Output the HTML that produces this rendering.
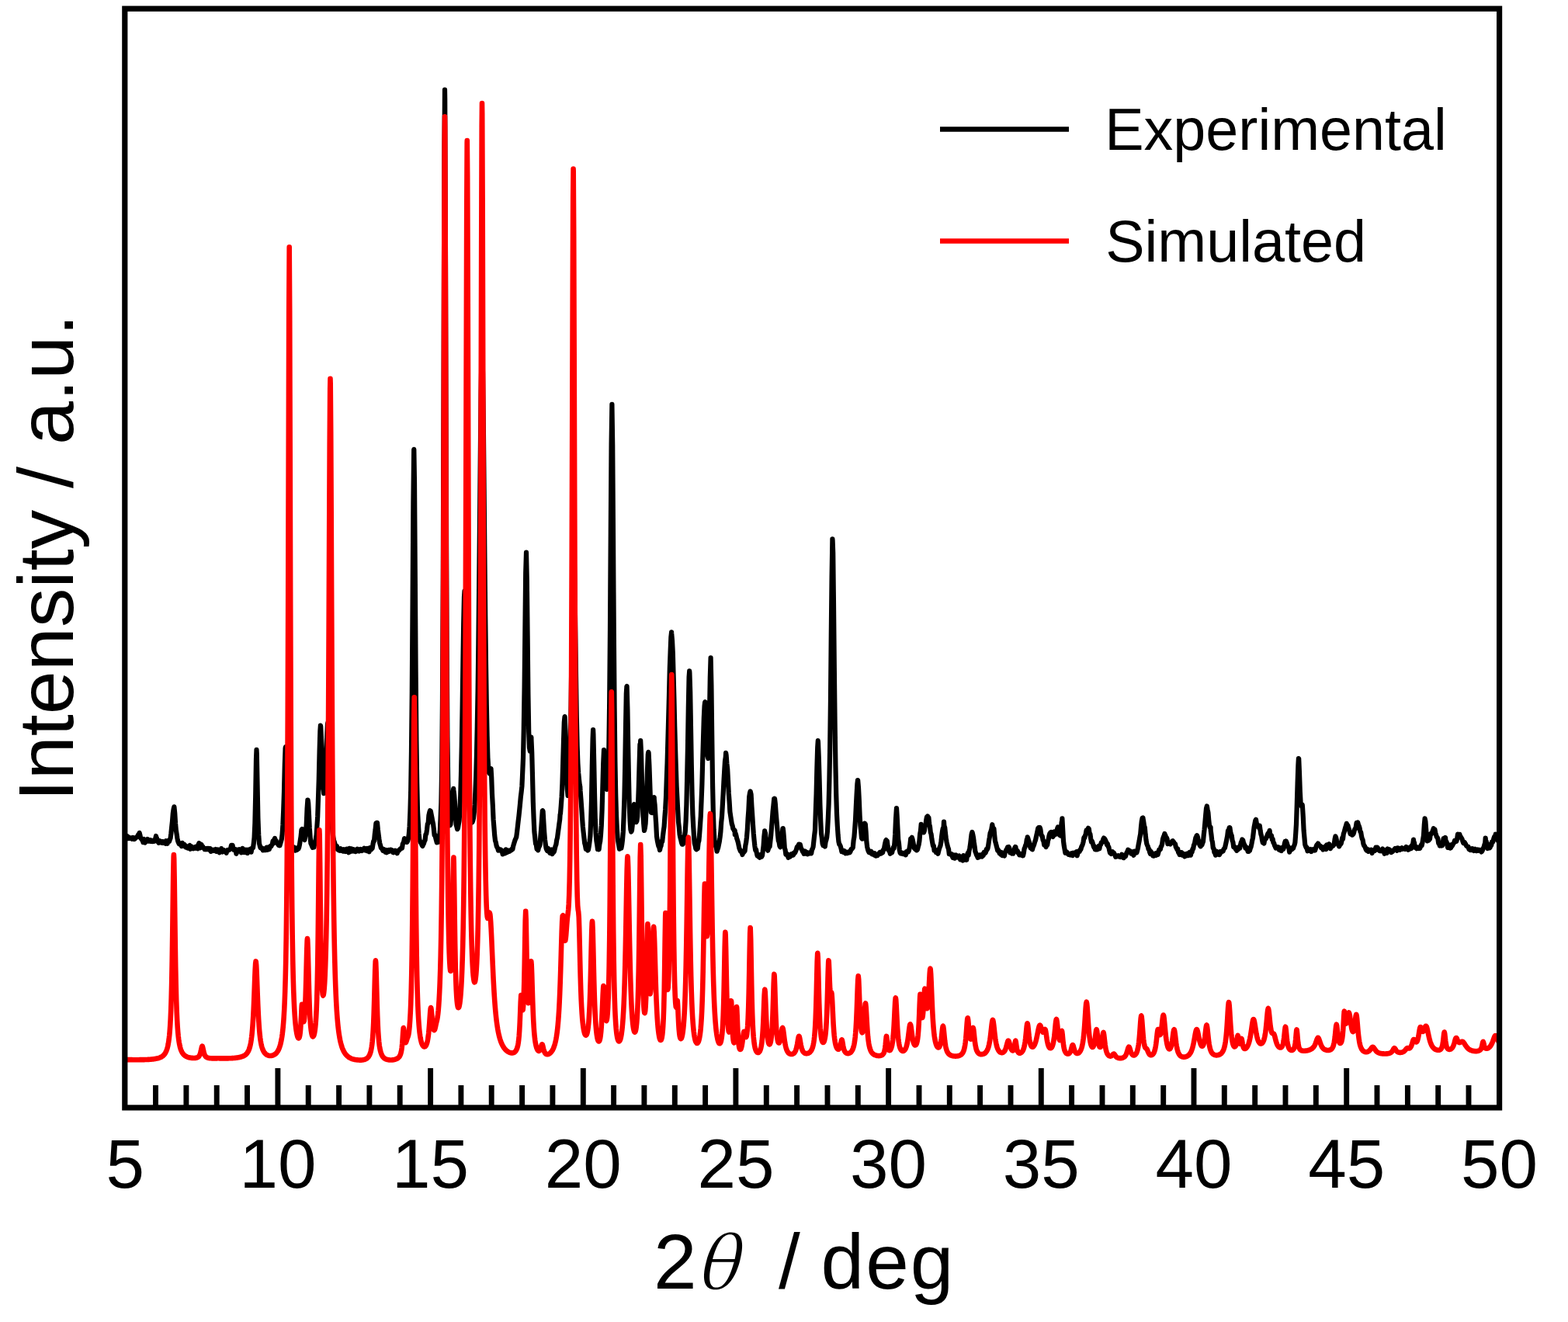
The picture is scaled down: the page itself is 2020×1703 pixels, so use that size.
<!DOCTYPE html>
<html><head><meta charset="utf-8"><title>PXRD: Experimental vs Simulated</title>
<style>html,body{margin:0;padding:0;background:#fff;width:2020px;height:1703px;overflow:hidden}svg{display:block}#w{}</style>
</head><body>
<div id="w"><svg xmlns="http://www.w3.org/2000/svg" width="2020" height="1703" viewBox="0 0 2020 1703">
<rect width="2020" height="1703" fill="#fff"/>
<path d="M161.2 1078.8L162.0 1079.6 162.8 1079.1 163.6 1076.9 164.4 1080.2 165.2 1079.6 166.0 1078.4 166.8 1080.1 167.6 1079.9 168.4 1080.0 169.2 1079.7 170.0 1080.6 170.8 1078.9 171.6 1079.8 172.4 1079.4 173.2 1081.0 174.0 1080.2 174.8 1079.6 175.6 1078.5 176.4 1078.5 177.2 1077.5 178.0 1075.5 178.7 1077.1 178.8 1076.8 179.6 1072.8 180.4 1075.8 181.2 1079.7 182.0 1080.3 182.8 1081.8 183.6 1082.2 184.4 1085.1 185.2 1080.8 186.0 1082.0 186.8 1085.6 187.6 1083.8 188.4 1083.9 189.2 1082.4 190.0 1081.0 190.8 1083.7 191.6 1083.7 192.4 1081.9 193.2 1082.8 194.0 1083.7 194.8 1082.6 195.6 1083.8 196.4 1084.1 197.2 1083.9 198.0 1082.8 198.8 1083.6 199.6 1082.5 200.4 1079.4 201.0 1076.9 201.2 1079.2 202.0 1079.6 202.8 1083.8 203.6 1082.4 204.4 1085.8 205.2 1084.8 206.0 1083.3 206.8 1084.8 207.6 1085.4 208.4 1085.8 209.2 1084.1 210.0 1084.0 210.8 1085.9 211.6 1085.0 212.4 1086.0 213.2 1086.7 214.0 1083.2 214.8 1085.7 215.6 1086.8 216.4 1084.2 217.2 1082.8 218.0 1083.9 218.8 1081.5 219.6 1079.6 220.4 1073.4 221.2 1065.2 222.0 1058.2 222.8 1047.8 223.6 1042.5 224.0 1040.8 224.4 1039.3 225.2 1047.2 226.0 1060.3 226.8 1069.2 227.6 1074.3 228.4 1079.8 229.2 1083.5 230.0 1085.5 230.8 1087.4 231.6 1087.5 232.4 1087.6 233.2 1087.9 234.0 1090.1 234.8 1085.8 235.6 1089.1 236.4 1089.5 237.2 1087.7 238.0 1090.4 238.8 1089.2 239.6 1091.5 240.4 1090.3 241.2 1091.5 242.0 1092.5 242.8 1091.4 243.6 1089.8 244.4 1089.1 245.2 1093.8 246.0 1091.3 246.8 1090.6 247.6 1091.9 248.4 1091.6 249.2 1093.2 250.0 1092.1 250.8 1092.1 251.6 1091.1 252.4 1092.7 253.2 1090.4 254.0 1092.5 254.8 1093.2 255.6 1088.2 256.4 1086.1 257.2 1089.7 258.0 1092.2 258.8 1087.6 259.6 1088.1 260.4 1091.7 261.2 1090.6 262.0 1091.8 262.8 1092.5 263.6 1094.1 264.4 1093.1 265.2 1094.2 266.0 1093.8 266.8 1093.0 267.6 1093.9 268.4 1093.1 269.2 1094.6 270.0 1093.1 270.8 1093.2 271.6 1096.9 272.4 1094.9 273.2 1095.0 274.0 1095.9 274.8 1094.7 275.6 1095.0 276.4 1096.0 277.2 1095.9 278.0 1094.0 278.8 1096.9 279.6 1095.0 280.4 1094.4 281.2 1094.7 282.0 1095.5 282.8 1098.3 283.6 1094.4 284.4 1096.3 285.2 1093.1 286.0 1096.1 286.8 1097.4 287.6 1095.8 288.4 1095.2 289.2 1096.4 290.0 1097.1 290.8 1097.0 291.6 1098.8 292.4 1096.2 293.2 1094.9 294.0 1095.3 294.8 1095.0 295.6 1094.7 296.4 1093.6 297.2 1092.6 298.0 1088.8 298.8 1091.6 299.0 1089.6 299.6 1089.1 300.4 1092.7 301.2 1095.0 302.0 1094.9 302.8 1095.3 303.6 1094.3 304.4 1099.9 305.2 1097.4 306.0 1094.7 306.8 1095.3 307.6 1096.6 308.4 1094.3 309.2 1096.8 310.0 1096.0 310.8 1098.3 311.6 1098.0 312.4 1092.8 313.2 1096.6 314.0 1094.2 314.8 1098.0 315.6 1096.7 316.4 1097.1 317.2 1094.8 318.0 1098.8 318.8 1099.0 319.6 1094.6 320.4 1096.5 321.2 1094.9 322.0 1095.7 322.8 1093.7 323.6 1097.7 324.4 1093.1 325.2 1092.9 326.0 1092.1 326.8 1086.5 327.6 1078.8 328.4 1060.5 329.2 1025.5 330.0 977.5 330.5 965.9 330.8 971.0 331.6 1013.3 332.4 1054.1 333.2 1075.2 334.0 1086.6 334.8 1089.7 335.6 1092.2 336.4 1092.6 337.2 1093.4 338.0 1092.7 338.8 1095.4 339.6 1093.1 340.4 1093.7 341.2 1095.2 342.0 1095.2 342.8 1094.0 343.6 1091.6 344.4 1094.8 345.2 1094.3 346.0 1091.5 346.8 1094.1 347.6 1091.4 348.4 1089.9 349.2 1090.5 350.0 1088.7 350.8 1087.6 351.6 1083.3 352.4 1086.4 353.2 1081.7 354.0 1079.9 354.8 1083.2 355.6 1082.9 356.4 1085.3 357.2 1085.8 358.0 1087.4 358.8 1088.7 359.6 1087.6 360.4 1089.3 361.2 1086.6 362.0 1083.8 362.8 1081.1 363.6 1074.9 364.4 1062.7 365.2 1044.0 366.0 1020.1 366.8 985.9 367.6 964.0 368.0 962.1 368.4 963.5 369.2 988.6 370.0 1019.4 370.8 1046.8 371.6 1062.4 372.4 1074.2 373.2 1082.6 374.0 1083.1 374.8 1093.6 375.6 1090.1 376.4 1091.2 377.2 1094.2 378.0 1093.5 378.8 1091.4 379.6 1095.0 380.4 1095.5 381.2 1093.7 382.0 1093.8 382.8 1094.7 383.6 1092.3 384.4 1093.4 385.2 1091.7 386.0 1087.9 386.8 1082.6 387.6 1077.6 388.4 1069.2 389.2 1067.9 390.0 1069.6 390.8 1076.8 391.6 1080.6 392.4 1082.0 393.2 1077.9 394.0 1072.5 394.8 1061.1 395.6 1041.8 396.4 1030.5 396.6 1030.6 397.2 1034.8 398.0 1050.0 398.8 1067.0 399.6 1077.5 400.4 1086.4 401.2 1088.0 402.0 1090.2 402.8 1091.8 403.6 1090.0 404.4 1091.6 405.2 1087.2 406.0 1084.5 406.8 1081.2 407.6 1075.6 408.4 1064.4 409.2 1051.9 410.0 1028.2 410.8 1003.4 411.6 968.2 412.4 941.4 412.9 934.5 413.2 935.9 414.0 952.0 414.8 976.6 415.6 999.4 416.4 1014.6 417.0 1019.3 417.2 1022.1 418.0 1020.9 418.8 1010.6 419.6 994.8 420.4 969.8 421.2 949.2 422.0 932.4 422.5 930.7 422.8 934.0 423.6 944.3 424.4 973.8 425.2 1000.1 426.0 1027.3 426.8 1044.0 427.6 1059.4 428.4 1070.5 429.2 1078.1 430.0 1082.4 430.8 1084.7 431.6 1087.5 432.4 1091.3 433.2 1091.4 434.0 1090.0 434.8 1094.2 435.6 1094.2 436.4 1095.2 437.2 1093.8 438.0 1095.7 438.8 1093.3 439.6 1095.7 440.4 1094.3 441.2 1096.0 442.0 1096.5 442.8 1094.2 443.6 1095.1 444.4 1095.3 445.2 1096.9 446.0 1096.3 446.8 1093.6 447.6 1095.9 448.4 1096.3 449.2 1098.2 450.0 1092.9 450.8 1094.5 451.6 1097.1 452.4 1093.3 453.2 1093.5 454.0 1095.9 454.8 1096.5 455.6 1094.2 456.4 1095.8 457.2 1095.2 458.0 1097.1 458.8 1095.0 459.6 1096.3 460.4 1093.7 461.2 1094.6 462.0 1094.8 462.8 1096.5 463.6 1095.8 464.4 1093.9 465.2 1095.9 466.0 1096.1 466.8 1094.9 467.6 1094.7 468.4 1094.8 469.2 1092.7 470.0 1095.3 470.8 1095.3 471.6 1093.8 472.4 1096.0 473.2 1093.0 474.0 1094.1 474.8 1094.0 475.6 1097.3 476.4 1092.1 477.2 1094.7 478.0 1094.7 478.8 1093.1 479.6 1093.0 480.4 1088.1 481.2 1083.4 482.0 1083.4 482.8 1074.6 483.6 1068.5 484.4 1060.5 485.2 1060.2 485.3 1059.9 486.0 1059.8 486.8 1068.4 487.6 1074.8 488.4 1080.9 489.2 1086.0 490.0 1088.8 490.8 1092.1 491.6 1093.1 492.4 1093.1 493.2 1095.7 494.0 1093.9 494.8 1095.5 495.6 1095.9 496.4 1097.6 497.2 1095.0 498.0 1098.3 498.8 1096.2 499.6 1095.7 500.4 1095.1 501.2 1097.0 502.0 1096.3 502.8 1094.7 503.6 1094.7 504.4 1095.6 505.2 1095.4 506.0 1097.9 506.8 1098.3 507.6 1097.6 508.4 1096.9 509.2 1095.8 510.0 1096.5 510.8 1097.6 511.6 1099.3 512.4 1097.4 513.2 1095.6 514.0 1095.7 514.8 1094.6 515.6 1093.5 516.4 1093.3 517.2 1092.3 518.0 1092.5 518.8 1087.1 519.6 1085.6 520.4 1083.5 521.0 1080.1 521.2 1082.2 522.0 1081.9 522.8 1082.2 523.6 1084.8 524.4 1084.9 525.2 1083.4 526.0 1080.2 526.8 1074.8 527.6 1065.0 528.4 1045.9 529.2 1018.1 530.0 967.0 530.8 890.2 531.6 775.8 532.4 648.6 533.2 579.4 533.3 578.8 534.0 621.4 534.8 742.0 535.6 864.8 536.4 953.9 537.2 1008.5 538.0 1044.7 538.8 1060.7 539.6 1074.0 540.4 1081.5 541.2 1083.9 542.0 1085.5 542.8 1086.4 543.6 1088.8 544.4 1089.9 545.2 1088.0 546.0 1086.5 546.8 1083.7 547.6 1082.3 548.4 1075.1 549.2 1074.2 550.0 1068.9 550.8 1061.5 551.6 1060.7 552.4 1050.5 553.2 1046.8 554.0 1044.3 554.4 1047.2 554.8 1044.7 555.6 1049.1 556.4 1053.1 557.2 1057.8 558.0 1061.2 558.8 1067.6 559.6 1075.6 560.4 1075.5 561.2 1079.3 562.0 1082.5 562.8 1085.3 563.6 1085.0 564.4 1085.0 565.2 1080.4 566.0 1079.0 566.8 1070.8 567.6 1054.1 568.4 1033.9 569.2 989.5 570.0 899.8 570.8 743.8 571.6 491.5 572.4 206.4 573.0 115.5 573.2 127.1 574.0 339.3 574.8 626.5 575.6 832.9 576.4 948.2 577.2 1007.1 578.0 1041.1 578.8 1058.4 579.6 1063.3 580.4 1062.1 581.2 1054.3 582.0 1044.5 582.8 1028.4 583.6 1019.9 584.2 1015.9 584.4 1017.9 585.2 1024.4 586.0 1035.3 586.8 1050.4 587.6 1062.1 588.4 1065.0 589.2 1068.2 590.0 1066.9 590.8 1061.6 591.6 1057.1 592.4 1044.9 593.2 1025.4 594.0 997.7 594.8 960.3 595.6 912.9 596.4 856.0 597.2 804.6 598.0 768.6 598.5 761.3 598.8 761.7 599.6 791.2 600.4 841.2 601.2 899.5 602.0 946.9 602.8 983.0 603.6 1014.7 604.4 1036.6 605.2 1048.2 606.0 1056.9 606.8 1060.5 607.6 1059.6 608.4 1059.3 609.2 1057.4 610.0 1053.9 610.8 1046.7 611.6 1036.2 612.4 1019.6 613.2 1001.0 614.0 972.0 614.8 935.3 615.6 890.5 616.4 828.5 617.2 753.3 618.0 672.5 618.8 588.1 619.6 507.7 620.4 461.6 621.0 449.5 621.2 449.3 622.0 480.5 622.8 546.5 623.6 628.9 624.4 716.8 625.2 793.2 626.0 855.4 626.8 907.5 627.6 947.7 628.4 975.6 629.2 989.3 630.0 995.5 630.8 996.5 631.6 990.1 632.4 990.8 632.5 990.0 633.2 1001.3 634.0 1023.4 634.8 1037.7 635.6 1055.9 636.4 1065.7 637.2 1076.2 638.0 1082.9 638.8 1085.3 639.6 1089.5 640.4 1091.5 641.2 1092.6 642.0 1095.6 642.8 1095.1 643.6 1094.3 644.4 1094.3 645.2 1094.5 646.0 1096.7 646.8 1095.9 647.6 1100.4 648.4 1099.3 649.2 1096.6 650.0 1096.5 650.8 1099.3 651.6 1094.3 652.4 1096.3 653.2 1098.2 654.0 1095.4 654.8 1095.8 655.6 1095.7 656.4 1096.8 657.2 1095.6 658.0 1095.5 658.8 1095.0 659.6 1093.4 660.4 1093.8 661.2 1089.9 662.0 1087.2 662.8 1084.5 663.6 1082.1 664.4 1080.3 665.2 1078.4 666.0 1072.3 666.8 1065.4 667.6 1058.1 668.4 1051.5 669.2 1043.9 670.0 1035.8 670.8 1026.9 671.6 1020.3 672.4 1013.0 673.2 995.3 674.0 976.4 674.8 938.1 675.6 886.0 676.4 811.2 677.2 738.4 678.0 711.7 678.8 747.5 679.6 818.6 680.4 893.6 681.2 942.6 682.0 963.3 682.8 967.7 683.6 955.1 684.4 949.5 684.5 953.5 685.2 968.9 686.0 999.8 686.8 1033.3 687.6 1054.3 688.4 1071.7 689.2 1078.9 690.0 1086.8 690.8 1088.1 691.6 1093.9 692.4 1093.4 693.2 1095.3 694.0 1091.6 694.8 1090.3 695.6 1088.4 696.4 1076.5 697.2 1067.6 698.0 1056.1 698.8 1044.5 699.1 1044.2 699.6 1045.3 700.4 1059.5 701.2 1072.1 702.0 1081.6 702.8 1087.6 703.6 1092.9 704.4 1095.0 705.2 1096.1 706.0 1092.7 706.8 1095.3 707.6 1097.5 708.4 1098.7 709.2 1097.4 710.0 1096.8 710.8 1094.5 711.6 1100.1 712.4 1095.0 713.2 1098.0 714.0 1096.6 714.8 1093.2 715.6 1089.8 716.4 1087.8 717.2 1082.2 718.0 1079.3 718.8 1073.2 719.6 1067.3 720.4 1061.1 721.2 1055.6 721.6 1049.4 722.0 1048.1 722.8 1037.9 723.6 1026.7 724.4 1009.6 725.2 983.5 726.0 955.7 726.8 930.5 727.4 924.2 727.6 923.1 728.4 940.5 729.2 968.6 730.0 995.6 730.8 1016.7 731.6 1024.9 732.4 1021.3 733.2 1012.3 734.0 987.2 734.8 955.6 735.6 908.1 736.4 849.5 737.2 784.5 738.0 731.8 738.8 702.2 739.0 701.7 739.6 710.5 740.4 751.1 741.2 812.3 742.0 871.2 742.8 923.4 743.6 960.7 744.4 983.1 745.2 995.8 746.0 1004.2 746.8 1011.3 747.3 1013.5 747.6 1019.0 748.4 1029.3 749.2 1040.4 750.0 1052.8 750.8 1064.5 751.6 1072.0 752.4 1078.9 753.2 1086.3 754.0 1089.2 754.8 1093.8 755.6 1091.8 756.4 1091.6 757.2 1095.5 758.0 1094.6 758.8 1089.8 759.6 1083.9 760.4 1076.8 761.2 1057.7 762.0 1031.1 762.8 987.3 763.6 951.4 764.1 940.0 764.4 945.9 765.2 981.6 766.0 1022.1 766.8 1055.7 767.6 1072.9 768.4 1083.2 769.2 1087.9 770.0 1094.0 770.8 1093.0 771.6 1094.2 772.4 1087.5 773.2 1083.6 774.0 1075.3 774.8 1063.4 775.6 1043.5 776.4 1012.9 777.2 984.2 778.0 966.2 778.1 969.7 778.8 970.2 779.6 984.3 780.4 1001.1 781.2 1008.1 781.5 1011.5 782.0 1017.0 782.8 1012.5 783.6 996.5 784.4 960.8 785.2 902.7 786.0 811.0 786.8 685.2 787.6 570.9 788.4 520.8 789.2 573.5 790.0 691.5 790.8 816.1 791.6 912.8 792.4 980.7 793.2 1022.7 794.0 1050.3 794.8 1067.4 795.6 1079.3 796.4 1084.4 797.2 1089.1 798.0 1093.6 798.8 1092.9 799.6 1092.7 800.4 1092.6 801.2 1088.3 802.0 1081.8 802.8 1071.5 803.6 1052.1 804.4 1027.2 805.2 988.6 806.0 938.6 806.8 893.7 807.4 884.5 807.6 884.1 808.4 913.3 809.2 961.5 810.0 1004.2 810.8 1039.7 811.6 1057.4 812.4 1068.7 813.2 1071.6 814.0 1069.8 814.8 1062.2 815.6 1048.4 816.4 1041.8 817.0 1036.0 817.2 1038.4 818.0 1044.4 818.8 1052.5 819.6 1059.1 820.4 1057.5 821.2 1051.9 822.0 1036.4 822.8 1014.1 823.6 985.5 824.4 958.9 825.0 958.5 825.2 954.0 826.0 970.0 826.8 1000.3 827.6 1028.9 828.4 1049.9 829.2 1061.3 830.0 1069.9 830.8 1066.8 831.6 1061.1 832.4 1045.4 833.2 1018.8 834.0 992.4 834.8 971.7 835.3 968.9 835.6 969.8 836.4 985.8 837.2 1008.6 838.0 1031.9 838.8 1046.7 839.6 1047.1 840.4 1045.2 841.2 1037.5 842.0 1029.0 842.7 1027.1 842.8 1030.2 843.6 1036.9 844.4 1049.6 845.2 1061.5 846.0 1077.3 846.8 1082.8 847.6 1086.7 848.4 1090.1 849.2 1091.2 850.0 1095.0 850.8 1091.4 851.6 1089.5 852.4 1083.6 853.2 1084.0 854.0 1076.6 854.8 1070.2 855.6 1064.7 856.4 1052.5 857.2 1042.2 858.0 1026.9 858.8 1003.5 859.6 982.6 860.4 953.6 861.2 925.4 862.0 895.0 862.8 861.2 863.6 840.1 864.4 820.5 865.1 814.3 865.2 815.9 866.0 825.2 866.8 841.4 867.6 870.5 868.4 899.8 869.2 935.1 870.0 963.2 870.8 988.5 871.6 1012.7 872.4 1027.8 873.2 1043.9 874.0 1058.9 874.8 1065.6 875.6 1075.0 876.4 1079.0 877.2 1081.9 878.0 1085.5 878.8 1087.7 879.6 1087.6 880.4 1086.2 881.2 1083.6 882.0 1077.5 882.8 1071.1 883.6 1057.5 884.4 1036.4 885.2 1000.9 886.0 961.7 886.8 912.4 887.6 872.3 888.2 864.4 888.4 866.6 889.2 892.0 890.0 938.3 890.8 985.8 891.6 1023.6 892.4 1049.2 893.2 1064.3 894.0 1077.6 894.8 1086.4 895.6 1089.5 896.4 1093.4 897.2 1094.2 898.0 1092.5 898.8 1093.0 899.6 1085.6 900.4 1083.1 901.2 1073.8 902.0 1063.1 902.8 1051.1 903.6 1031.2 904.4 1010.2 905.2 980.0 906.0 952.6 906.8 925.3 907.6 909.0 908.1 904.8 908.4 904.2 909.2 917.1 910.0 934.0 910.8 955.8 911.6 974.1 912.4 977.1 913.2 960.2 914.0 920.2 914.8 873.2 915.6 847.3 916.4 883.1 917.2 948.0 918.0 1008.0 918.8 1045.2 919.6 1068.8 920.4 1081.5 921.2 1087.1 922.0 1090.2 922.8 1091.8 923.6 1096.7 924.4 1094.3 925.2 1092.0 926.0 1087.9 926.8 1084.1 927.6 1078.4 928.4 1071.4 929.2 1059.5 930.0 1051.6 930.8 1037.8 931.6 1023.6 932.4 1007.6 933.2 993.5 934.0 980.5 934.8 975.2 935.1 969.8 935.6 972.8 936.4 983.5 937.2 990.9 938.0 1006.2 938.8 1021.9 939.6 1032.6 940.4 1045.7 941.2 1051.1 942.0 1056.4 942.8 1061.4 943.6 1063.6 944.4 1067.6 945.2 1068.4 946.0 1070.5 946.7 1069.9 946.8 1075.2 947.6 1073.6 948.4 1076.3 949.2 1080.1 950.0 1082.3 950.8 1085.0 951.6 1088.9 952.4 1092.7 953.2 1094.6 954.0 1096.8 954.8 1096.1 955.6 1096.7 956.4 1101.0 957.2 1097.8 958.0 1098.2 958.8 1097.3 959.6 1096.1 960.4 1088.9 961.2 1085.2 962.0 1078.3 962.8 1069.1 963.6 1054.2 964.4 1043.6 965.2 1026.4 966.0 1021.5 966.6 1019.5 966.8 1019.9 967.6 1023.5 968.4 1038.5 969.2 1050.0 970.0 1062.7 970.8 1074.0 971.6 1082.5 972.4 1090.1 973.2 1095.4 974.0 1094.4 974.8 1098.8 975.6 1102.4 976.4 1102.5 977.2 1103.6 978.0 1101.2 978.8 1104.8 979.6 1101.2 980.4 1103.1 981.2 1103.6 982.0 1102.1 982.8 1096.1 983.6 1089.4 984.4 1077.5 985.2 1070.3 985.4 1072.1 986.0 1073.1 986.8 1081.5 987.6 1087.3 988.4 1093.7 989.2 1095.7 990.0 1093.0 990.8 1091.3 991.6 1090.6 992.4 1083.5 993.2 1075.9 994.0 1065.8 994.8 1055.9 995.6 1045.3 996.4 1037.8 997.2 1029.2 997.6 1031.8 998.0 1028.7 998.8 1035.2 999.6 1046.5 1000.4 1056.0 1001.2 1065.6 1002.0 1075.3 1002.8 1082.9 1003.6 1084.7 1004.4 1089.8 1005.2 1091.2 1006.0 1089.5 1006.8 1086.3 1007.6 1075.3 1008.4 1067.2 1008.7 1067.1 1009.2 1070.9 1010.0 1080.4 1010.8 1092.5 1011.6 1094.8 1012.4 1100.8 1013.2 1099.3 1014.0 1101.0 1014.8 1102.2 1015.6 1104.7 1016.4 1103.1 1017.2 1101.3 1018.0 1103.6 1018.8 1101.3 1019.6 1100.3 1020.4 1101.7 1021.2 1100.8 1022.0 1101.4 1022.8 1098.6 1023.6 1099.0 1024.4 1098.2 1025.2 1096.2 1026.0 1094.0 1026.8 1091.1 1027.6 1091.4 1028.4 1088.9 1029.2 1088.7 1029.3 1087.5 1030.0 1088.3 1030.8 1087.9 1031.6 1091.1 1032.4 1093.9 1033.2 1094.6 1034.0 1097.1 1034.8 1097.4 1035.6 1099.7 1036.4 1098.2 1037.2 1096.6 1038.0 1099.7 1038.8 1099.1 1039.6 1098.0 1040.4 1100.3 1041.2 1099.6 1042.0 1099.7 1042.8 1098.3 1043.6 1098.6 1044.4 1098.0 1045.2 1099.3 1046.0 1094.5 1046.8 1093.4 1047.6 1090.9 1048.4 1083.2 1049.2 1075.9 1050.0 1069.4 1050.8 1045.8 1051.6 1023.1 1052.4 989.7 1053.2 963.3 1053.8 954.2 1054.0 956.5 1054.8 976.7 1055.6 1004.1 1056.4 1036.0 1057.2 1057.2 1058.0 1073.8 1058.8 1079.1 1059.6 1086.7 1060.4 1089.1 1061.2 1088.8 1062.0 1087.0 1062.8 1090.5 1063.6 1084.4 1064.4 1082.1 1065.2 1078.5 1066.0 1070.4 1066.8 1054.7 1067.6 1036.1 1068.4 1005.6 1069.2 962.6 1070.0 901.1 1070.8 816.0 1071.6 742.7 1072.4 694.3 1072.6 696.3 1073.2 712.0 1074.0 780.9 1074.8 859.8 1075.6 930.9 1076.4 985.4 1077.2 1022.4 1078.0 1048.1 1078.8 1063.8 1079.6 1075.6 1080.4 1084.0 1081.2 1087.7 1082.0 1088.4 1082.8 1090.3 1083.6 1093.2 1084.4 1097.0 1085.2 1096.0 1086.0 1096.2 1086.8 1097.8 1087.6 1096.0 1088.4 1096.7 1089.2 1099.2 1090.0 1098.1 1090.8 1098.0 1091.6 1099.0 1092.4 1097.6 1093.2 1097.3 1094.0 1097.2 1094.8 1098.2 1095.6 1096.8 1096.4 1094.0 1097.2 1093.8 1098.0 1093.0 1098.8 1091.6 1099.6 1082.8 1100.4 1078.3 1101.2 1067.9 1102.0 1056.4 1102.8 1039.6 1103.6 1024.0 1104.4 1009.9 1105.0 1005.0 1105.2 1005.4 1106.0 1015.0 1106.8 1030.6 1107.6 1050.3 1108.4 1063.7 1109.2 1070.4 1110.0 1079.5 1110.8 1080.7 1111.6 1080.4 1112.4 1079.8 1113.2 1071.2 1114.0 1060.6 1114.4 1063.3 1114.8 1061.6 1115.6 1071.6 1116.4 1084.7 1117.2 1091.0 1118.0 1094.4 1118.8 1096.6 1119.6 1098.2 1120.4 1098.3 1121.2 1098.7 1122.0 1096.6 1122.8 1097.5 1123.6 1100.4 1124.4 1098.6 1125.2 1100.4 1126.0 1101.4 1126.8 1099.2 1127.6 1100.1 1128.4 1102.6 1129.2 1100.7 1130.0 1102.3 1130.8 1101.8 1131.6 1100.7 1132.4 1099.4 1133.2 1098.2 1134.0 1097.7 1134.8 1099.7 1135.6 1099.2 1136.4 1097.7 1137.2 1098.2 1138.0 1094.5 1138.8 1094.5 1139.6 1089.6 1140.4 1085.5 1141.2 1082.6 1141.6 1082.1 1142.0 1086.1 1142.8 1083.2 1143.6 1089.6 1144.4 1094.5 1145.2 1096.1 1146.0 1096.1 1146.8 1099.8 1147.6 1096.2 1148.4 1095.9 1149.2 1098.2 1150.0 1094.6 1150.8 1091.6 1151.6 1092.8 1152.4 1086.2 1153.2 1074.4 1154.0 1055.4 1154.8 1043.2 1155.0 1041.0 1155.6 1050.4 1156.4 1066.4 1157.2 1081.3 1158.0 1086.5 1158.8 1095.1 1159.6 1098.5 1160.4 1099.5 1161.2 1099.6 1162.0 1099.0 1162.8 1098.7 1163.6 1100.2 1164.4 1099.9 1165.2 1099.7 1166.0 1098.8 1166.8 1101.4 1167.6 1097.1 1168.4 1098.1 1169.2 1096.5 1170.0 1097.4 1170.8 1096.0 1171.6 1092.8 1172.4 1088.1 1173.2 1080.7 1174.0 1082.3 1174.5 1079.4 1174.8 1078.8 1175.6 1081.5 1176.4 1085.1 1177.2 1090.0 1178.0 1092.8 1178.8 1093.7 1179.6 1091.5 1180.4 1095.2 1181.2 1095.4 1182.0 1094.2 1182.8 1091.0 1183.6 1088.2 1184.4 1083.5 1185.2 1074.3 1186.0 1070.1 1186.7 1061.9 1186.8 1062.6 1187.6 1064.0 1188.4 1064.9 1189.2 1069.2 1190.0 1072.4 1190.8 1070.3 1191.6 1065.1 1192.4 1062.9 1193.2 1056.6 1194.0 1052.3 1194.8 1051.9 1195.0 1051.4 1195.6 1053.5 1196.4 1053.3 1197.2 1061.4 1198.0 1064.9 1198.8 1072.4 1199.6 1074.5 1200.4 1080.8 1201.2 1085.4 1202.0 1089.8 1202.8 1089.5 1203.6 1095.5 1204.4 1095.4 1205.2 1095.0 1206.0 1098.2 1206.8 1097.0 1207.6 1098.5 1208.4 1099.7 1209.2 1096.6 1210.0 1093.3 1210.8 1091.1 1211.6 1089.1 1212.4 1084.2 1213.2 1076.9 1214.0 1070.8 1214.8 1067.0 1215.6 1065.9 1216.0 1058.5 1216.4 1063.8 1217.2 1066.1 1218.0 1073.5 1218.8 1080.2 1219.6 1085.1 1220.4 1088.5 1221.2 1091.7 1222.0 1093.7 1222.8 1100.1 1223.6 1099.6 1224.4 1100.2 1225.2 1101.3 1226.0 1100.4 1226.8 1103.2 1227.6 1105.0 1228.4 1105.0 1229.2 1101.5 1230.0 1105.7 1230.8 1102.9 1231.6 1101.4 1232.4 1102.5 1233.2 1103.0 1234.0 1104.4 1234.8 1103.1 1235.6 1102.5 1236.4 1104.3 1237.2 1107.4 1238.0 1103.7 1238.8 1105.4 1239.6 1104.9 1240.4 1108.5 1241.2 1102.1 1242.0 1106.2 1242.8 1102.7 1243.6 1103.4 1244.4 1103.7 1245.2 1107.8 1246.0 1101.6 1246.8 1098.9 1247.6 1101.7 1248.4 1096.2 1249.2 1093.2 1250.0 1088.0 1250.8 1081.4 1251.6 1074.6 1252.4 1072.0 1252.5 1072.1 1253.2 1074.8 1254.0 1078.8 1254.8 1085.2 1255.6 1090.5 1256.4 1097.0 1257.2 1098.8 1258.0 1101.4 1258.8 1102.5 1259.6 1104.8 1260.4 1103.1 1261.2 1104.1 1262.0 1101.5 1262.8 1101.7 1263.6 1102.6 1264.4 1101.2 1265.2 1103.6 1266.0 1100.4 1266.8 1101.9 1267.6 1097.8 1268.4 1098.9 1269.2 1099.0 1270.0 1097.8 1270.8 1094.0 1271.6 1094.5 1272.4 1093.0 1273.2 1089.2 1274.0 1083.3 1274.8 1078.8 1275.6 1073.1 1276.4 1071.1 1277.2 1068.7 1278.0 1064.0 1278.3 1062.2 1278.8 1065.3 1279.6 1068.3 1280.4 1067.3 1281.2 1075.9 1282.0 1083.5 1282.8 1086.0 1283.6 1089.4 1284.4 1092.3 1285.2 1095.7 1286.0 1094.8 1286.8 1096.4 1287.6 1099.3 1288.4 1098.6 1289.2 1100.6 1290.0 1098.0 1290.8 1102.0 1291.6 1102.2 1292.4 1101.0 1293.2 1100.9 1294.0 1102.4 1294.8 1097.8 1295.6 1096.7 1296.4 1094.8 1297.2 1093.8 1298.0 1091.5 1298.7 1092.4 1298.8 1091.5 1299.6 1091.1 1300.4 1092.6 1301.2 1098.3 1302.0 1098.0 1302.8 1098.7 1303.6 1099.5 1304.4 1099.2 1305.2 1099.6 1306.0 1097.7 1306.8 1093.8 1307.6 1091.5 1308.0 1090.9 1308.4 1091.0 1309.2 1096.6 1310.0 1095.8 1310.8 1096.0 1311.6 1098.8 1312.4 1099.4 1313.2 1101.2 1314.0 1099.6 1314.8 1101.4 1315.6 1100.9 1316.4 1101.7 1317.2 1102.3 1318.0 1102.3 1318.8 1098.8 1319.6 1093.3 1320.4 1091.5 1321.2 1088.8 1322.0 1087.2 1322.8 1081.5 1323.6 1080.3 1323.7 1078.4 1324.4 1080.2 1325.2 1083.1 1326.0 1084.9 1326.8 1089.7 1327.6 1092.2 1328.4 1091.7 1329.2 1093.7 1330.0 1094.3 1330.8 1091.1 1331.6 1089.6 1332.4 1087.2 1333.2 1084.3 1334.0 1082.4 1334.8 1078.4 1335.6 1075.1 1336.4 1071.2 1337.2 1067.3 1338.0 1066.3 1338.8 1067.4 1339.6 1065.9 1340.4 1068.4 1341.2 1074.3 1342.0 1076.7 1342.8 1077.4 1343.6 1082.3 1344.4 1083.3 1345.2 1088.6 1346.0 1087.1 1346.8 1089.0 1347.6 1091.0 1348.4 1087.2 1349.2 1088.6 1350.0 1083.0 1350.8 1080.9 1351.6 1076.4 1352.4 1073.7 1353.0 1073.0 1353.2 1072.6 1354.0 1072.0 1354.8 1076.4 1355.6 1077.4 1356.4 1078.0 1357.2 1076.7 1358.0 1071.3 1358.4 1074.6 1358.8 1074.6 1359.6 1072.6 1360.4 1074.7 1361.2 1073.4 1362.0 1067.7 1362.8 1065.4 1362.9 1066.9 1363.6 1073.5 1364.4 1074.5 1365.2 1075.8 1366.0 1076.4 1366.8 1068.6 1367.6 1059.5 1368.2 1057.3 1368.4 1054.4 1369.2 1069.1 1370.0 1083.5 1370.8 1089.8 1371.6 1094.3 1372.4 1098.8 1373.2 1096.8 1374.0 1097.6 1374.8 1097.9 1375.6 1099.9 1376.4 1100.8 1377.2 1100.2 1378.0 1101.2 1378.8 1101.6 1379.6 1101.2 1380.4 1099.3 1381.2 1100.0 1382.0 1102.1 1382.8 1098.7 1383.6 1099.7 1384.4 1099.3 1385.2 1099.4 1386.0 1097.9 1386.8 1097.2 1387.6 1102.3 1388.4 1099.5 1389.2 1096.6 1390.0 1096.8 1390.8 1096.9 1391.6 1094.4 1392.4 1094.4 1393.2 1091.0 1394.0 1089.5 1394.8 1087.6 1395.6 1084.5 1396.4 1078.9 1397.2 1079.3 1398.0 1076.5 1398.8 1073.9 1399.6 1069.5 1400.4 1069.8 1401.2 1069.0 1402.0 1066.8 1402.8 1067.7 1403.6 1073.7 1404.4 1074.5 1405.2 1080.2 1406.0 1084.7 1406.8 1083.6 1407.6 1085.8 1408.4 1088.8 1409.2 1091.4 1410.0 1090.1 1410.8 1094.3 1411.6 1094.5 1412.4 1094.3 1413.2 1092.5 1414.0 1094.2 1414.8 1093.5 1415.6 1089.8 1416.4 1093.3 1417.2 1088.6 1418.0 1088.1 1418.8 1085.3 1419.6 1085.1 1420.4 1084.9 1421.2 1081.2 1422.0 1079.5 1422.6 1081.1 1422.8 1080.0 1423.6 1081.3 1424.4 1083.2 1425.2 1084.7 1426.0 1088.3 1426.8 1086.9 1427.6 1090.7 1428.4 1091.3 1429.2 1095.6 1430.0 1098.7 1430.8 1096.9 1431.6 1100.0 1432.4 1097.9 1433.2 1097.2 1434.0 1098.4 1434.8 1098.6 1435.6 1100.0 1436.4 1101.4 1437.2 1103.8 1438.0 1103.5 1438.8 1103.4 1439.6 1102.4 1440.4 1102.2 1441.2 1103.4 1442.0 1103.6 1442.8 1103.9 1443.6 1104.1 1444.4 1103.4 1445.2 1100.8 1446.0 1101.8 1446.8 1102.0 1447.6 1105.2 1448.4 1101.8 1449.2 1102.8 1450.0 1103.1 1450.8 1100.5 1451.6 1098.2 1452.4 1097.0 1453.2 1094.7 1454.0 1095.6 1454.7 1096.4 1454.8 1095.6 1455.6 1096.1 1456.4 1096.8 1457.2 1099.7 1458.0 1097.1 1458.8 1099.1 1459.6 1100.5 1460.4 1101.7 1461.2 1096.6 1462.0 1099.1 1462.8 1099.0 1463.6 1097.0 1464.4 1098.3 1465.2 1095.6 1466.0 1092.3 1466.8 1087.3 1467.6 1083.5 1468.4 1078.6 1469.2 1074.4 1470.0 1065.3 1470.8 1057.8 1471.6 1054.0 1472.4 1053.5 1473.2 1058.3 1474.0 1064.0 1474.8 1066.0 1475.6 1074.7 1476.4 1081.5 1477.2 1086.6 1478.0 1088.8 1478.8 1090.4 1479.6 1094.0 1480.4 1093.9 1481.2 1098.1 1482.0 1099.9 1482.8 1096.9 1483.6 1100.0 1484.4 1100.8 1485.2 1102.4 1486.0 1102.7 1486.8 1101.9 1487.6 1099.7 1488.4 1100.0 1489.2 1101.9 1490.0 1099.0 1490.8 1099.3 1491.6 1100.9 1492.4 1098.0 1493.2 1094.7 1494.0 1094.7 1494.8 1094.2 1495.6 1090.7 1496.4 1089.8 1497.2 1086.9 1498.0 1081.0 1498.8 1078.3 1499.6 1076.6 1500.4 1074.0 1500.5 1076.2 1501.2 1075.7 1502.0 1078.5 1502.8 1078.8 1503.6 1080.9 1504.4 1087.1 1505.2 1085.1 1506.0 1086.8 1506.8 1087.0 1507.6 1087.4 1508.4 1085.7 1509.2 1085.7 1510.0 1083.6 1510.8 1083.1 1511.6 1084.1 1512.4 1085.4 1513.2 1086.8 1514.0 1087.2 1514.8 1091.1 1515.6 1092.4 1516.4 1094.3 1517.2 1093.5 1518.0 1098.0 1518.8 1097.8 1519.6 1101.1 1520.4 1100.1 1521.2 1098.1 1522.0 1098.0 1522.8 1101.7 1523.6 1099.1 1524.4 1101.4 1525.2 1100.0 1526.0 1103.4 1526.8 1100.6 1527.6 1102.6 1528.4 1102.3 1529.2 1099.6 1530.0 1099.7 1530.8 1102.0 1531.6 1099.6 1532.4 1098.0 1533.2 1100.4 1534.0 1101.6 1534.8 1096.9 1535.6 1097.6 1536.4 1093.7 1537.2 1093.6 1538.0 1088.5 1538.8 1087.5 1539.6 1083.0 1540.4 1079.1 1541.2 1078.1 1541.5 1076.8 1542.0 1076.2 1542.8 1077.8 1543.6 1081.8 1544.4 1083.2 1545.2 1087.7 1546.0 1089.6 1546.8 1090.3 1547.6 1088.9 1548.4 1088.5 1549.2 1086.0 1550.0 1084.0 1550.8 1075.3 1551.6 1068.3 1552.4 1059.4 1553.2 1050.0 1554.0 1041.5 1554.8 1038.4 1555.6 1042.8 1556.4 1046.6 1557.2 1055.9 1558.0 1063.3 1558.8 1066.1 1559.6 1065.6 1559.7 1069.8 1560.4 1074.7 1561.2 1081.9 1562.0 1085.0 1562.8 1092.6 1563.6 1092.9 1564.4 1098.0 1565.2 1098.8 1566.0 1101.7 1566.8 1098.1 1567.6 1096.8 1568.4 1100.6 1569.2 1100.4 1570.0 1098.7 1570.8 1101.1 1571.6 1100.0 1572.4 1096.9 1573.2 1097.8 1574.0 1097.2 1574.8 1096.9 1575.6 1096.4 1576.4 1094.0 1577.2 1093.1 1578.0 1092.1 1578.8 1088.5 1579.6 1084.9 1580.4 1080.9 1581.2 1076.9 1582.0 1070.1 1582.8 1069.7 1583.6 1066.4 1583.8 1067.9 1584.4 1066.2 1585.2 1072.0 1586.0 1074.7 1586.8 1076.6 1587.6 1082.8 1588.4 1084.8 1589.2 1091.2 1590.0 1091.4 1590.8 1091.2 1591.6 1093.6 1592.4 1093.9 1593.2 1095.9 1594.0 1094.7 1594.8 1094.5 1595.6 1091.3 1596.4 1092.7 1597.2 1092.7 1598.0 1088.4 1598.8 1085.2 1599.6 1083.7 1600.3 1081.5 1600.4 1083.1 1601.2 1082.2 1602.0 1085.7 1602.8 1087.4 1603.6 1088.9 1604.4 1092.5 1605.2 1090.9 1606.0 1093.7 1606.8 1092.3 1607.6 1096.9 1608.4 1097.0 1609.2 1095.0 1610.0 1095.7 1610.8 1092.7 1611.6 1090.9 1612.4 1087.1 1613.2 1082.8 1614.0 1079.4 1614.8 1072.3 1615.6 1065.7 1616.4 1061.6 1617.2 1057.3 1618.0 1055.8 1618.8 1060.5 1619.6 1062.7 1620.4 1064.8 1621.2 1063.3 1622.0 1065.8 1622.6 1067.4 1622.8 1063.7 1623.6 1069.8 1624.4 1074.8 1625.2 1077.0 1626.0 1082.0 1626.8 1085.7 1627.6 1085.6 1628.4 1086.5 1629.2 1081.7 1630.0 1080.9 1630.8 1080.6 1631.6 1078.7 1632.4 1076.4 1633.2 1074.2 1634.0 1073.1 1634.8 1072.4 1634.9 1073.9 1635.6 1069.8 1636.4 1077.0 1637.2 1075.7 1638.0 1076.5 1638.8 1081.5 1639.6 1080.9 1640.4 1085.4 1641.2 1086.1 1642.0 1089.1 1642.8 1090.7 1643.6 1092.5 1644.4 1090.8 1645.2 1091.9 1646.0 1092.8 1646.8 1091.3 1647.6 1094.5 1648.4 1094.1 1649.2 1092.2 1650.0 1095.8 1650.8 1096.0 1651.6 1091.9 1652.4 1094.0 1653.2 1094.0 1654.0 1091.8 1654.8 1087.0 1655.6 1083.9 1656.4 1084.0 1656.7 1083.4 1657.2 1084.5 1658.0 1086.4 1658.8 1089.9 1659.6 1090.5 1660.4 1092.5 1661.2 1097.7 1662.0 1093.9 1662.8 1095.2 1663.6 1094.5 1664.4 1094.1 1665.2 1091.9 1666.0 1092.8 1666.8 1090.2 1667.6 1088.5 1668.4 1085.3 1669.2 1074.3 1670.0 1061.1 1670.8 1036.6 1671.6 1009.1 1672.4 985.5 1672.9 977.0 1673.2 977.4 1674.0 996.4 1674.8 1019.6 1675.6 1034.5 1676.4 1037.7 1677.2 1039.2 1677.7 1036.5 1678.0 1039.8 1678.8 1052.5 1679.6 1069.8 1680.4 1078.6 1681.2 1087.7 1682.0 1090.2 1682.8 1092.2 1683.6 1091.7 1684.4 1096.3 1685.2 1095.9 1686.0 1096.0 1686.8 1095.5 1687.6 1095.2 1688.4 1094.0 1689.2 1097.1 1690.0 1096.0 1690.8 1095.0 1691.6 1094.3 1692.4 1094.9 1693.2 1094.0 1694.0 1095.6 1694.8 1093.4 1695.6 1090.3 1696.4 1088.3 1697.2 1088.3 1698.0 1086.5 1698.6 1087.7 1698.8 1088.1 1699.6 1088.9 1700.4 1089.6 1701.2 1089.9 1702.0 1092.1 1702.8 1091.0 1703.6 1092.8 1704.4 1094.5 1705.2 1093.9 1706.0 1091.5 1706.8 1091.3 1707.6 1090.0 1708.4 1094.0 1709.2 1088.3 1710.0 1089.2 1710.8 1091.1 1711.6 1089.5 1712.0 1089.7 1712.4 1087.2 1713.2 1089.3 1714.0 1093.2 1714.8 1089.6 1715.6 1090.7 1716.4 1089.8 1717.2 1089.7 1718.0 1088.7 1718.8 1087.5 1719.6 1081.0 1720.4 1077.4 1720.9 1078.8 1721.2 1079.2 1722.0 1083.0 1722.8 1085.2 1723.6 1085.9 1724.4 1089.0 1725.2 1090.3 1726.0 1088.8 1726.8 1087.0 1727.6 1087.0 1728.4 1083.7 1729.2 1079.2 1730.0 1080.9 1730.8 1074.2 1731.6 1072.2 1732.4 1069.0 1733.2 1066.0 1734.0 1063.8 1734.8 1060.8 1735.2 1063.3 1735.6 1062.6 1736.4 1063.3 1737.2 1066.4 1738.0 1068.6 1738.8 1071.4 1739.6 1074.3 1740.4 1074.2 1741.2 1072.7 1742.0 1075.7 1742.8 1075.1 1743.6 1074.1 1744.4 1071.3 1745.2 1068.4 1746.0 1067.9 1746.8 1065.2 1747.6 1059.9 1748.4 1060.8 1749.0 1059.7 1749.2 1059.5 1750.0 1062.5 1750.8 1064.2 1751.6 1066.9 1752.4 1071.5 1753.2 1072.1 1754.0 1077.3 1754.8 1080.5 1755.6 1082.0 1756.4 1086.9 1757.2 1089.3 1758.0 1089.8 1758.8 1091.8 1759.6 1094.1 1760.4 1095.4 1761.2 1093.5 1762.0 1095.5 1762.8 1096.8 1763.6 1095.6 1764.4 1094.8 1765.2 1095.0 1766.0 1095.7 1766.8 1094.8 1767.6 1099.0 1768.4 1095.3 1769.2 1096.5 1770.0 1096.0 1770.8 1096.1 1771.6 1094.0 1772.4 1091.7 1773.2 1094.8 1774.0 1091.6 1774.4 1091.8 1774.8 1092.0 1775.6 1094.2 1776.4 1094.6 1777.2 1096.1 1778.0 1096.3 1778.8 1095.9 1779.6 1096.3 1780.4 1095.1 1781.2 1093.5 1782.0 1095.9 1782.8 1094.7 1783.6 1099.8 1784.4 1098.3 1785.2 1097.7 1786.0 1095.3 1786.8 1098.9 1787.6 1093.5 1788.4 1094.1 1789.2 1094.7 1790.0 1094.4 1790.8 1095.8 1791.6 1095.8 1792.4 1098.1 1793.2 1096.8 1794.0 1097.0 1794.8 1095.8 1795.6 1094.9 1796.4 1094.1 1797.2 1092.9 1798.0 1093.7 1798.8 1094.3 1799.6 1095.8 1800.4 1092.3 1801.2 1092.7 1802.0 1094.8 1802.8 1092.9 1803.6 1094.8 1804.4 1093.7 1805.2 1093.1 1806.0 1092.2 1806.8 1093.8 1807.6 1092.9 1808.4 1092.9 1809.2 1092.8 1810.0 1093.9 1810.8 1093.7 1811.6 1091.0 1812.4 1093.2 1813.2 1093.9 1814.0 1094.8 1814.8 1094.4 1815.6 1093.5 1816.4 1091.4 1817.2 1091.5 1818.0 1093.0 1818.8 1089.2 1819.6 1088.8 1820.4 1085.9 1821.0 1081.5 1821.2 1083.8 1822.0 1085.5 1822.8 1091.7 1823.6 1092.2 1824.4 1091.4 1825.2 1093.2 1826.0 1091.6 1826.8 1092.7 1827.6 1093.1 1828.4 1092.9 1829.2 1092.8 1830.0 1090.7 1830.8 1088.5 1831.6 1089.2 1832.4 1085.8 1833.2 1081.0 1834.0 1076.2 1834.8 1062.9 1835.6 1054.3 1836.4 1058.1 1837.2 1069.0 1838.0 1078.9 1838.8 1083.4 1839.6 1082.6 1840.4 1082.7 1841.2 1081.6 1842.0 1080.8 1842.8 1074.4 1843.6 1074.9 1844.4 1072.9 1845.2 1071.8 1846.0 1069.7 1846.8 1067.2 1847.6 1068.4 1848.4 1068.4 1849.2 1072.9 1850.0 1075.3 1850.8 1078.3 1851.6 1078.6 1852.4 1080.6 1853.2 1086.3 1854.0 1086.1 1854.8 1089.5 1855.6 1088.6 1856.4 1086.4 1857.2 1089.5 1858.0 1089.3 1858.8 1085.1 1859.6 1080.2 1860.4 1081.3 1860.9 1079.6 1861.2 1080.5 1862.0 1078.9 1862.8 1086.5 1863.6 1084.5 1864.4 1088.7 1865.2 1091.9 1866.0 1088.4 1866.8 1088.3 1867.6 1090.0 1868.4 1092.6 1869.2 1092.0 1870.0 1088.2 1870.8 1089.7 1871.6 1088.1 1872.4 1086.6 1873.2 1085.6 1874.0 1082.8 1874.8 1083.6 1875.6 1082.6 1876.4 1083.7 1877.2 1080.1 1878.0 1074.5 1878.8 1075.7 1879.6 1077.7 1879.7 1077.3 1880.4 1074.8 1881.2 1077.7 1882.0 1078.3 1882.8 1079.8 1883.6 1081.0 1884.4 1083.8 1885.2 1086.0 1886.0 1086.3 1886.8 1085.1 1887.6 1086.6 1888.4 1088.0 1889.2 1089.8 1890.0 1090.1 1890.8 1091.0 1891.6 1090.8 1892.4 1094.0 1893.2 1094.3 1894.0 1094.9 1894.8 1093.8 1895.6 1094.9 1896.4 1093.2 1897.2 1093.3 1898.0 1094.2 1898.8 1096.0 1899.6 1095.1 1900.4 1093.8 1901.2 1095.7 1902.0 1096.2 1902.8 1095.8 1903.6 1094.6 1904.4 1095.6 1905.2 1094.8 1906.0 1094.8 1906.8 1095.0 1907.6 1096.1 1908.4 1097.4 1909.2 1096.7 1910.0 1095.0 1910.8 1092.7 1911.6 1091.2 1912.4 1088.2 1913.2 1086.1 1913.7 1079.5 1914.0 1084.0 1914.8 1084.0 1915.6 1089.8 1916.4 1093.0 1917.2 1090.1 1918.0 1088.0 1918.8 1092.4 1919.6 1091.8 1920.4 1089.3 1921.2 1088.9 1922.0 1084.3 1922.8 1085.1 1923.6 1083.6 1924.4 1080.0 1925.2 1077.7 1926.0 1077.9 1926.6 1077.3 1926.8 1074.7 1927.6 1078.2 1928.4 1078.7 1929.2 1079.7 1930.0 1083.3 1930.8 1084.7 1931.4 1085.7" fill="none" stroke="#000" stroke-width="6.2" stroke-linejoin="round"/>
<path d="M161.2 1365.1L161.7 1365.1 162.2 1365.1 162.7 1365.1 163.2 1365.1 163.7 1365.1 164.2 1365.1 164.7 1365.1 165.2 1365.1 165.7 1365.1 166.2 1365.1 166.7 1365.1 167.2 1365.1 167.7 1365.1 168.2 1365.1 168.7 1365.1 169.2 1365.1 169.7 1365.1 170.2 1365.2 170.7 1365.2 171.2 1365.2 171.7 1365.2 172.2 1365.2 172.7 1365.2 173.2 1365.2 173.7 1365.2 174.2 1365.2 174.7 1365.2 175.2 1365.2 175.7 1365.2 176.2 1365.2 176.7 1365.2 177.2 1365.2 177.7 1365.2 178.2 1365.2 178.7 1365.2 179.2 1365.2 179.7 1365.2 180.2 1365.1 180.7 1365.1 181.2 1365.1 181.7 1365.1 182.2 1365.1 182.7 1365.1 183.2 1365.1 183.7 1365.1 184.2 1365.1 184.7 1365.1 185.2 1365.1 185.7 1365.1 186.2 1365.1 186.7 1365.0 187.2 1365.0 187.7 1365.0 188.2 1365.0 188.7 1365.0 189.2 1365.0 189.7 1365.0 190.2 1364.9 190.7 1364.9 191.2 1364.9 191.7 1364.9 192.2 1364.8 192.7 1364.8 193.2 1364.7 193.7 1364.7 194.2 1364.7 194.7 1364.6 195.2 1364.6 195.7 1364.5 196.2 1364.5 196.7 1364.4 197.2 1364.4 197.7 1364.3 198.2 1364.2 198.7 1364.2 199.2 1364.1 199.7 1364.0 200.2 1363.9 200.7 1363.8 201.2 1363.7 201.7 1363.6 202.2 1363.5 202.7 1363.4 203.2 1363.3 203.7 1363.2 204.2 1363.0 204.7 1362.9 205.2 1362.7 205.7 1362.5 206.2 1362.3 206.7 1362.1 207.2 1361.9 207.7 1361.6 208.2 1361.3 208.7 1361.0 209.2 1360.7 209.7 1360.3 210.2 1359.9 210.7 1359.4 211.2 1358.9 211.7 1358.3 212.2 1357.7 212.7 1356.9 213.2 1356.1 213.7 1355.1 214.2 1354.0 214.7 1352.8 215.2 1351.3 215.7 1349.6 216.2 1347.5 216.7 1345.0 217.2 1342.1 217.7 1338.5 218.2 1334.1 218.7 1328.5 219.2 1321.5 219.7 1312.6 220.2 1300.9 220.7 1285.6 221.2 1265.4 221.7 1238.9 222.2 1205.2 222.7 1165.7 223.2 1127.2 223.7 1103.4 223.9 1101.0 224.2 1106.2 224.7 1134.2 225.2 1173.8 225.7 1212.4 226.2 1244.7 226.7 1269.8 227.2 1288.9 227.7 1303.3 228.2 1314.3 228.7 1322.9 229.2 1329.5 229.7 1334.8 230.2 1339.0 230.7 1342.5 231.2 1345.3 231.7 1347.6 232.2 1349.6 232.7 1351.3 233.2 1352.7 233.7 1353.9 234.2 1355.0 234.7 1355.9 235.2 1356.7 235.7 1357.4 236.2 1358.0 236.7 1358.6 237.2 1359.0 237.7 1359.5 238.2 1359.9 238.7 1360.2 239.2 1360.5 239.7 1360.8 240.2 1361.1 240.7 1361.3 241.2 1361.5 241.7 1361.7 242.2 1361.9 242.7 1362.0 243.2 1362.2 243.7 1362.3 244.2 1362.4 244.7 1362.5 245.2 1362.6 245.7 1362.7 246.2 1362.8 246.7 1362.8 247.2 1362.9 247.7 1362.9 248.2 1362.9 248.7 1363.0 249.2 1363.0 249.7 1363.0 250.2 1363.0 250.7 1363.0 251.2 1362.9 251.7 1362.9 252.2 1362.8 252.7 1362.7 253.2 1362.6 253.7 1362.5 254.2 1362.3 254.7 1362.0 255.2 1361.7 255.7 1361.3 256.2 1360.8 256.7 1360.1 257.2 1359.3 257.7 1358.1 258.2 1356.6 258.7 1354.6 259.2 1352.2 259.7 1349.8 260.2 1348.0 260.5 1347.7 260.7 1347.8 261.2 1349.3 261.7 1351.7 262.2 1354.1 262.7 1356.2 263.2 1357.8 263.7 1359.1 264.2 1360.0 264.7 1360.7 265.2 1361.3 265.7 1361.7 266.2 1362.0 266.7 1362.3 267.2 1362.5 267.7 1362.7 268.2 1362.8 268.7 1362.9 269.2 1363.0 269.7 1363.1 270.2 1363.2 270.7 1363.2 271.2 1363.3 271.7 1363.3 272.2 1363.3 272.7 1363.3 273.2 1363.4 273.7 1363.4 274.2 1363.4 274.7 1363.4 275.2 1363.4 275.7 1363.4 276.2 1363.4 276.7 1363.4 277.2 1363.4 277.7 1363.4 278.2 1363.4 278.7 1363.4 279.2 1363.4 279.7 1363.3 280.2 1363.3 280.7 1363.3 281.2 1363.3 281.7 1363.3 282.2 1363.3 282.7 1363.3 283.2 1363.4 283.7 1363.4 284.2 1363.4 284.7 1363.4 285.2 1363.4 285.7 1363.4 286.2 1363.4 286.7 1363.4 287.2 1363.4 287.7 1363.4 288.2 1363.4 288.7 1363.4 289.2 1363.4 289.7 1363.4 290.2 1363.4 290.7 1363.4 291.2 1363.4 291.7 1363.4 292.2 1363.4 292.7 1363.4 293.2 1363.4 293.7 1363.4 294.2 1363.3 294.7 1363.3 295.2 1363.3 295.7 1363.3 296.2 1363.3 296.7 1363.3 297.2 1363.2 297.7 1363.2 298.2 1363.2 298.7 1363.2 299.2 1363.1 299.7 1363.1 300.2 1363.1 300.7 1363.0 301.2 1363.0 301.7 1363.0 302.2 1362.9 302.7 1362.9 303.2 1362.8 303.7 1362.8 304.2 1362.7 304.7 1362.6 305.2 1362.6 305.7 1362.5 306.2 1362.4 306.7 1362.3 307.2 1362.3 307.7 1362.2 308.2 1362.1 308.7 1361.9 309.2 1361.8 309.7 1361.7 310.2 1361.6 310.7 1361.4 311.2 1361.3 311.7 1361.1 312.2 1360.9 312.7 1360.8 313.2 1360.6 313.7 1360.3 314.2 1360.1 314.7 1359.8 315.2 1359.5 315.7 1359.2 316.2 1358.8 316.7 1358.4 317.2 1357.9 317.7 1357.4 318.2 1356.8 318.7 1356.1 319.2 1355.3 319.7 1354.4 320.2 1353.4 320.7 1352.3 321.2 1350.9 321.7 1349.3 322.2 1347.4 322.7 1345.2 323.2 1342.6 323.7 1339.4 324.2 1335.6 324.7 1331.0 325.2 1325.4 325.7 1318.6 326.2 1310.3 326.7 1300.3 327.2 1288.5 327.7 1275.2 328.2 1261.4 328.7 1249.1 329.2 1240.7 329.6 1238.4 329.7 1238.5 330.2 1243.4 330.7 1253.7 331.2 1266.9 331.7 1280.6 332.2 1293.4 332.7 1304.5 333.2 1313.8 333.7 1321.5 334.2 1327.8 334.7 1332.9 335.2 1337.2 335.7 1340.7 336.2 1343.6 336.7 1346.1 337.2 1348.1 337.7 1349.8 338.2 1351.3 338.7 1352.6 339.2 1353.6 339.7 1354.6 340.2 1355.4 340.7 1356.1 341.2 1356.7 341.7 1357.2 342.2 1357.7 342.7 1358.1 343.2 1358.5 343.7 1358.8 344.2 1359.1 344.7 1359.3 345.2 1359.5 345.7 1359.7 346.2 1359.8 346.7 1359.9 347.2 1360.0 347.7 1360.0 348.2 1360.0 348.7 1360.0 349.2 1360.0 349.7 1359.9 350.2 1359.8 350.7 1359.7 351.2 1359.6 351.7 1359.4 352.2 1359.2 352.7 1359.0 353.2 1358.7 353.7 1358.4 354.2 1358.1 354.7 1357.7 355.2 1357.3 355.7 1356.8 356.2 1356.3 356.7 1355.6 357.2 1355.0 357.7 1354.2 358.2 1353.4 358.7 1352.4 359.2 1351.4 359.7 1350.2 360.2 1348.8 360.7 1347.3 361.2 1345.6 361.7 1343.6 362.2 1341.3 362.7 1338.7 363.2 1335.7 363.7 1332.2 364.2 1328.0 364.7 1323.1 365.2 1317.2 365.7 1310.1 366.2 1301.4 366.7 1290.7 367.2 1277.2 367.7 1260.0 368.2 1237.8 368.7 1208.4 369.2 1168.8 369.7 1114.2 370.2 1037.6 370.7 929.3 371.2 779.4 371.7 589.4 372.2 402.5 372.7 318.4 373.2 402.3 373.7 589.1 374.2 778.9 374.7 928.7 375.2 1036.8 375.7 1113.2 376.2 1167.7 376.7 1207.1 377.2 1236.3 377.7 1258.4 378.2 1275.3 378.7 1288.5 379.2 1299.0 379.7 1307.4 380.2 1314.2 380.7 1319.7 381.2 1324.2 381.7 1327.8 382.2 1330.8 382.7 1333.2 383.2 1335.0 383.7 1336.3 384.2 1337.2 384.7 1337.5 385.2 1337.2 385.7 1336.1 386.2 1334.0 386.7 1330.6 387.2 1325.1 387.7 1316.9 388.2 1306.2 388.7 1296.3 389.0 1293.7 389.2 1294.0 389.7 1300.3 390.2 1308.5 390.7 1314.0 391.2 1316.2 391.7 1315.2 392.2 1311.5 392.7 1305.0 393.2 1295.3 393.7 1282.1 394.2 1265.0 394.7 1245.0 395.2 1225.1 395.7 1211.4 396.0 1209.0 396.2 1210.2 396.7 1222.0 397.2 1241.6 397.7 1262.4 398.2 1280.7 398.7 1295.5 399.2 1306.9 399.7 1315.4 400.2 1321.9 400.7 1326.7 401.2 1330.1 401.7 1332.6 402.2 1334.2 402.7 1335.1 403.2 1335.4 403.7 1335.0 404.2 1334.1 404.7 1332.6 405.2 1330.4 405.7 1327.3 406.2 1323.1 406.7 1317.6 407.2 1310.3 407.7 1300.5 408.2 1287.1 408.7 1268.5 409.2 1242.7 409.7 1207.0 410.2 1160.5 410.7 1109.3 411.2 1073.4 411.4 1069.3 411.7 1076.2 412.2 1114.3 412.7 1162.6 413.2 1203.9 413.7 1234.1 414.2 1254.6 414.7 1268.1 415.2 1276.4 415.7 1280.9 416.2 1282.5 416.7 1281.7 417.2 1278.8 417.7 1273.7 418.2 1266.4 418.7 1256.7 419.2 1244.2 419.7 1228.2 420.2 1208.0 420.7 1182.4 421.2 1149.8 421.7 1108.1 422.2 1054.8 422.7 986.7 423.2 901.1 423.7 797.6 424.2 682.2 424.7 573.1 425.2 500.9 425.5 487.9 425.7 493.9 426.2 555.5 426.7 660.7 427.2 777.4 427.7 884.8 428.2 974.9 428.7 1047.1 429.2 1104.1 429.7 1148.9 430.2 1184.2 430.7 1212.3 431.2 1234.9 431.7 1253.2 432.2 1268.2 432.7 1280.7 433.2 1291.0 433.7 1299.8 434.2 1307.2 434.7 1313.6 435.2 1319.1 435.7 1323.8 436.2 1328.0 436.7 1331.6 437.2 1334.8 437.7 1337.6 438.2 1340.2 438.7 1342.4 439.2 1344.4 439.7 1346.2 440.2 1347.9 440.7 1349.4 441.2 1350.7 441.7 1351.9 442.2 1353.0 442.7 1354.0 443.2 1355.0 443.7 1355.8 444.2 1356.6 444.7 1357.3 445.2 1358.0 445.7 1358.6 446.2 1359.2 446.7 1359.7 447.2 1360.2 447.7 1360.6 448.2 1361.0 448.7 1361.4 449.2 1361.8 449.7 1362.1 450.2 1362.4 450.7 1362.7 451.2 1363.0 451.7 1363.2 452.2 1363.5 452.7 1363.7 453.2 1363.9 453.7 1364.0 454.2 1364.2 454.7 1364.4 455.2 1364.5 455.7 1364.6 456.2 1364.8 456.7 1364.9 457.2 1365.0 457.7 1365.1 458.2 1365.1 458.7 1365.2 459.2 1365.3 459.7 1365.3 460.2 1365.4 460.7 1365.4 461.2 1365.4 461.7 1365.5 462.2 1365.5 462.7 1365.6 463.2 1365.6 463.7 1365.6 464.2 1365.6 464.7 1365.6 465.2 1365.6 465.7 1365.6 466.2 1365.5 466.7 1365.5 467.2 1365.4 467.7 1365.3 468.2 1365.2 468.7 1365.1 469.2 1365.0 469.7 1364.9 470.2 1364.7 470.7 1364.5 471.2 1364.3 471.7 1364.0 472.2 1363.7 472.7 1363.4 473.2 1363.0 473.7 1362.5 474.2 1362.0 474.7 1361.4 475.2 1360.6 475.7 1359.8 476.2 1358.8 476.7 1357.5 477.2 1356.1 477.7 1354.3 478.2 1352.0 478.7 1349.3 479.2 1345.8 479.7 1341.3 480.2 1335.5 480.7 1327.8 481.2 1317.8 481.7 1304.7 482.2 1288.0 482.7 1268.7 483.2 1250.0 483.7 1238.4 483.9 1237.3 484.2 1239.8 484.7 1253.4 485.2 1272.6 485.7 1291.6 486.2 1307.5 486.7 1319.9 487.2 1329.4 487.7 1336.6 488.2 1342.1 488.7 1346.4 489.2 1349.7 489.7 1352.3 490.2 1354.4 490.7 1356.1 491.2 1357.5 491.7 1358.7 492.2 1359.7 492.7 1360.6 493.2 1361.3 493.7 1361.9 494.2 1362.4 494.7 1362.9 495.2 1363.3 495.7 1363.6 496.2 1363.9 496.7 1364.2 497.2 1364.4 497.7 1364.6 498.2 1364.8 498.7 1364.9 499.2 1365.0 499.7 1365.1 500.2 1365.2 500.7 1365.3 501.2 1365.4 501.7 1365.4 502.2 1365.5 502.7 1365.5 503.2 1365.5 503.7 1365.5 504.2 1365.5 504.7 1365.5 505.2 1365.4 505.7 1365.4 506.2 1365.3 506.7 1365.3 507.2 1365.2 507.7 1365.1 508.2 1365.0 508.7 1364.8 509.2 1364.7 509.7 1364.5 510.2 1364.3 510.7 1364.1 511.2 1363.9 511.7 1363.6 512.2 1363.3 512.7 1362.9 513.2 1362.5 513.7 1362.0 514.2 1361.5 514.7 1360.8 515.2 1359.9 515.7 1358.8 516.2 1357.5 516.7 1355.6 517.2 1353.2 517.7 1349.6 518.2 1344.6 518.7 1337.7 519.2 1329.7 519.7 1324.4 519.8 1324.0 520.2 1325.6 520.7 1331.5 521.2 1337.2 521.7 1341.0 522.2 1342.8 522.7 1343.1 523.2 1342.3 523.7 1340.8 524.2 1339.0 524.5 1338.0 524.7 1337.5 525.2 1336.3 525.7 1335.0 526.2 1333.1 526.7 1330.2 527.2 1326.2 527.7 1320.9 528.2 1314.0 528.7 1305.1 529.2 1293.4 529.7 1278.0 530.2 1257.5 530.7 1229.9 531.2 1192.3 531.7 1141.6 532.2 1075.5 532.7 998.1 533.2 928.0 533.7 898.3 534.2 927.9 534.7 997.8 535.2 1075.1 535.7 1141.1 536.2 1191.7 536.7 1229.2 537.2 1256.7 537.7 1277.2 538.2 1292.6 538.7 1304.3 539.2 1313.4 539.7 1320.6 540.2 1326.2 540.7 1330.8 541.2 1334.5 541.7 1337.5 542.2 1340.0 542.7 1342.0 543.2 1343.7 543.7 1345.0 544.2 1346.1 544.7 1346.9 545.2 1347.6 545.7 1348.0 546.2 1348.3 546.7 1348.4 547.2 1348.3 547.7 1348.1 548.2 1347.6 548.7 1347.0 549.2 1346.0 549.7 1344.8 550.2 1343.2 550.7 1341.2 551.2 1338.5 551.7 1335.1 552.2 1330.8 552.7 1325.3 553.2 1318.7 553.7 1311.3 554.2 1304.2 554.7 1299.2 555.0 1298.0 555.2 1298.1 555.7 1301.0 556.2 1306.5 556.7 1312.5 557.2 1317.9 557.7 1322.0 558.2 1324.8 558.7 1326.5 559.2 1327.2 559.7 1327.0 560.2 1325.9 560.7 1324.1 561.2 1321.8 561.7 1319.4 562.0 1318.0 562.2 1317.1 562.7 1315.1 563.2 1313.0 563.7 1310.1 564.2 1306.4 564.7 1301.5 565.2 1295.2 565.7 1287.5 566.2 1277.8 566.7 1265.9 567.2 1250.9 567.7 1231.9 568.2 1207.7 568.7 1176.1 569.2 1134.4 569.7 1078.3 570.2 1001.4 570.7 895.3 571.2 749.9 571.7 560.6 572.2 347.5 572.7 182.8 573.0 150.4 573.2 164.6 573.7 305.6 574.2 515.5 574.7 711.2 575.2 864.0 575.7 975.8 576.2 1056.1 576.7 1114.1 577.2 1156.3 577.7 1187.4 578.2 1210.2 578.7 1227.0 579.2 1238.8 579.7 1246.6 580.2 1250.6 580.7 1250.9 581.2 1246.9 581.7 1237.8 582.2 1222.1 582.7 1198.3 583.2 1166.0 583.7 1130.3 584.2 1106.5 584.4 1104.5 584.7 1111.2 585.2 1142.3 585.7 1181.5 586.2 1216.0 586.7 1242.1 587.2 1260.9 587.7 1274.1 588.2 1283.3 588.7 1289.7 589.2 1294.0 589.7 1296.7 590.2 1298.0 590.7 1298.2 591.2 1297.5 591.7 1295.8 592.2 1293.2 592.7 1289.5 593.2 1284.8 593.7 1278.8 594.2 1271.3 594.7 1262.0 595.2 1250.4 595.7 1236.0 596.2 1218.0 596.7 1195.1 597.2 1165.7 597.7 1127.6 598.2 1077.3 598.7 1010.2 599.2 919.9 599.7 798.9 600.2 642.1 600.7 456.4 601.2 279.3 601.7 184.0 601.8 181.0 602.2 226.3 602.7 379.4 603.2 567.6 603.7 737.2 604.2 871.3 604.7 972.0 605.2 1046.6 605.7 1101.9 606.2 1143.3 606.7 1174.7 607.2 1198.6 607.7 1217.1 608.2 1231.4 608.7 1242.3 609.2 1250.7 609.7 1256.9 610.2 1261.2 610.7 1264.0 611.2 1265.3 611.7 1265.1 612.2 1263.6 612.7 1260.5 613.2 1255.9 613.7 1249.4 614.2 1240.7 614.7 1229.4 615.2 1214.6 615.7 1195.6 616.2 1170.8 616.7 1138.3 617.2 1095.2 617.7 1037.2 618.2 958.2 618.7 850.3 619.2 704.8 619.7 519.5 620.2 316.4 620.7 163.1 621.0 133.0 621.2 145.7 621.7 275.0 622.2 472.3 622.7 661.2 623.2 811.8 623.7 923.2 624.2 1003.7 624.7 1061.4 625.2 1102.7 625.7 1132.2 626.2 1152.9 626.7 1167.0 627.2 1176.0 627.7 1180.9 628.2 1182.8 628.7 1182.5 629.2 1180.6 629.7 1178.3 630.2 1176.3 630.7 1175.7 631.2 1177.2 631.4 1178.4 631.7 1181.2 632.2 1187.8 632.7 1196.6 633.2 1207.1 633.7 1218.6 634.2 1230.4 634.7 1241.9 635.2 1252.9 635.7 1263.1 636.2 1272.4 636.7 1280.8 637.2 1288.4 637.7 1295.1 638.2 1301.1 638.7 1306.4 639.2 1311.1 639.7 1315.4 640.2 1319.1 640.7 1322.5 641.2 1325.6 641.7 1328.3 642.2 1330.8 642.7 1333.1 643.2 1335.1 643.7 1337.0 644.2 1338.7 644.7 1340.2 645.2 1341.7 645.7 1343.0 646.2 1344.2 646.7 1345.3 647.2 1346.3 647.7 1347.2 648.2 1348.1 648.7 1348.9 649.2 1349.7 649.7 1350.3 650.2 1351.0 650.7 1351.6 651.2 1352.1 651.7 1352.6 652.2 1353.1 652.7 1353.5 653.2 1353.9 653.7 1354.3 654.2 1354.7 654.7 1355.0 655.2 1355.2 655.7 1355.5 656.2 1355.7 656.7 1355.9 657.2 1356.1 657.7 1356.2 658.2 1356.3 658.7 1356.4 659.2 1356.4 659.7 1356.4 660.2 1356.4 660.7 1356.3 661.2 1356.2 661.7 1356.1 662.2 1355.8 662.7 1355.6 663.2 1355.2 663.7 1354.7 664.2 1354.2 664.7 1353.5 665.2 1352.6 665.7 1351.6 666.2 1350.2 666.7 1348.5 667.2 1346.4 667.7 1343.5 668.2 1339.7 668.7 1334.5 669.2 1327.4 669.7 1317.7 670.2 1305.1 670.7 1291.7 671.2 1282.7 671.3 1282.0 671.7 1283.1 672.2 1290.2 672.7 1297.5 673.2 1301.3 673.7 1300.7 674.2 1295.3 674.7 1284.7 675.2 1268.0 675.7 1244.1 676.2 1214.5 676.7 1186.4 677.2 1173.8 677.7 1185.2 678.2 1212.1 678.7 1240.5 679.2 1263.0 679.7 1278.4 680.2 1287.8 680.7 1292.1 681.2 1292.0 681.7 1287.9 682.2 1280.0 682.7 1268.6 683.2 1255.3 683.7 1243.5 684.2 1238.3 684.3 1238.4 684.7 1242.8 685.2 1255.7 685.7 1272.4 686.2 1288.7 686.7 1302.7 687.2 1314.0 687.7 1322.9 688.2 1329.8 688.7 1335.2 689.2 1339.5 689.7 1342.9 690.2 1345.6 690.7 1347.7 691.2 1349.5 691.7 1350.8 692.2 1351.9 692.7 1352.8 693.2 1353.4 693.7 1353.7 694.2 1353.9 694.7 1353.7 695.2 1353.3 695.7 1352.6 696.2 1351.4 696.7 1349.9 697.2 1348.0 697.7 1346.3 698.2 1345.3 698.4 1345.3 698.7 1345.6 699.2 1347.1 699.7 1349.2 700.2 1351.3 700.7 1353.1 701.2 1354.6 701.7 1355.7 702.2 1356.6 702.7 1357.2 703.2 1357.6 703.7 1357.9 704.2 1358.1 704.7 1358.2 705.2 1358.2 705.7 1358.2 706.2 1358.0 706.7 1357.9 707.2 1357.6 707.7 1357.4 708.2 1357.0 708.7 1356.6 709.2 1356.2 709.7 1355.6 710.2 1355.1 710.7 1354.4 711.2 1353.7 711.7 1352.9 712.2 1351.9 712.7 1350.9 713.2 1349.8 713.7 1348.5 714.2 1347.0 714.7 1345.4 715.2 1343.6 715.7 1341.5 716.2 1339.1 716.7 1336.4 717.2 1333.3 717.7 1329.7 718.2 1325.5 718.7 1320.7 719.2 1314.9 719.7 1308.1 720.2 1300.1 720.7 1290.5 721.2 1279.2 721.7 1266.0 722.2 1250.8 722.7 1233.9 723.2 1216.5 723.7 1200.1 724.2 1187.2 724.7 1180.0 725.2 1179.3 725.7 1184.0 726.2 1191.8 726.7 1200.1 727.2 1206.8 727.7 1210.8 728.2 1211.7 728.7 1209.4 729.2 1204.6 729.7 1198.0 730.2 1191.1 730.7 1185.0 730.8 1184.0 731.2 1180.4 731.7 1176.6 732.2 1172.1 732.7 1165.0 733.2 1153.3 733.7 1135.1 734.2 1108.4 734.7 1070.4 735.2 1017.6 735.7 945.3 736.2 847.6 736.7 719.2 737.2 560.7 737.7 390.4 738.2 256.3 738.6 217.6 738.7 220.3 739.2 303.4 739.7 461.2 740.2 632.4 740.7 781.3 741.2 898.6 741.7 986.8 742.2 1051.9 742.7 1099.0 743.2 1132.1 743.7 1153.9 744.2 1166.3 744.7 1171.9 745.2 1174.7 745.7 1180.9 745.8 1183.0 746.2 1194.9 746.7 1215.6 747.2 1237.7 747.7 1257.6 748.2 1274.0 748.7 1287.0 749.2 1297.2 749.7 1305.4 750.2 1311.9 750.7 1317.2 751.2 1321.4 751.7 1324.9 752.2 1327.6 752.7 1329.8 753.2 1331.5 753.7 1332.7 754.2 1333.4 754.7 1333.7 755.2 1333.5 755.7 1332.9 756.2 1331.6 756.7 1329.7 757.2 1327.1 757.7 1323.5 758.2 1318.7 758.7 1312.4 759.2 1304.2 759.7 1293.7 760.2 1280.3 760.7 1263.6 761.2 1243.7 761.7 1221.9 762.2 1201.9 762.7 1188.9 763.0 1186.7 763.2 1187.9 763.7 1199.2 764.2 1218.8 764.7 1241.1 765.2 1262.0 765.7 1279.9 766.2 1294.5 766.7 1306.1 767.2 1315.2 767.7 1322.3 768.2 1327.9 768.7 1332.2 769.2 1335.5 769.7 1338.0 770.2 1339.8 770.7 1340.9 771.2 1341.5 771.7 1341.4 772.2 1340.8 772.7 1339.4 773.2 1337.2 773.7 1333.9 774.2 1329.4 774.7 1323.3 775.2 1315.2 775.7 1304.9 776.2 1292.8 776.7 1280.6 777.2 1272.0 777.5 1270.0 777.7 1270.3 778.2 1276.0 778.7 1285.8 779.2 1296.1 779.7 1304.5 780.2 1310.5 780.7 1313.9 781.2 1315.1 781.7 1314.1 782.2 1310.9 782.7 1305.4 783.2 1297.1 783.7 1285.1 784.2 1268.3 784.7 1244.8 785.2 1211.6 785.7 1165.2 786.2 1101.5 786.7 1021.1 787.2 939.1 787.7 892.7 787.8 891.3 788.2 914.1 788.7 987.7 789.2 1072.3 789.7 1143.8 790.2 1197.3 790.7 1235.9 791.2 1263.7 791.7 1283.9 792.2 1298.8 792.7 1309.9 793.2 1318.3 793.7 1324.8 794.2 1329.7 794.7 1333.5 795.2 1336.4 795.7 1338.5 796.2 1340.0 796.7 1340.9 797.2 1341.4 797.7 1341.4 798.2 1341.0 798.7 1340.1 799.2 1338.8 799.7 1337.0 800.2 1334.6 800.7 1331.6 801.2 1327.9 801.7 1323.4 802.2 1317.8 802.7 1311.0 803.2 1302.7 803.7 1292.5 804.2 1280.1 804.7 1265.0 805.2 1246.7 805.7 1224.9 806.2 1199.7 806.7 1172.0 807.2 1144.2 807.7 1120.5 808.2 1106.0 808.5 1103.4 808.7 1104.5 809.2 1116.5 809.7 1138.5 810.2 1165.7 810.7 1193.4 811.2 1219.0 811.7 1241.3 812.2 1260.1 812.7 1275.5 813.2 1288.1 813.7 1298.3 814.2 1306.5 814.7 1313.1 815.2 1318.4 815.7 1322.5 816.2 1325.6 816.7 1327.7 817.2 1329.1 817.7 1329.7 818.2 1329.4 818.7 1328.3 819.2 1326.2 819.7 1322.9 820.2 1318.2 820.7 1311.6 821.2 1302.7 821.7 1290.5 822.2 1274.0 822.7 1251.6 823.2 1221.8 823.7 1184.0 824.2 1141.2 824.7 1103.7 825.2 1088.0 825.7 1103.1 826.2 1139.9 826.7 1182.0 827.2 1219.0 827.7 1247.8 828.2 1269.0 828.7 1284.2 829.2 1294.5 829.7 1301.1 830.2 1304.6 830.7 1305.0 831.2 1302.4 831.7 1296.0 832.2 1285.0 832.7 1267.6 833.2 1243.1 833.7 1214.3 834.2 1193.0 834.4 1190.3 834.7 1194.1 835.2 1215.5 835.7 1241.0 836.2 1260.9 836.7 1273.3 837.2 1279.3 837.7 1280.3 838.2 1277.3 838.7 1270.6 839.2 1260.7 839.7 1248.0 840.2 1233.3 840.7 1218.0 841.2 1204.4 841.7 1195.7 842.1 1193.8 842.2 1194.1 842.7 1200.4 843.2 1213.2 843.7 1229.8 844.2 1247.3 844.7 1264.0 845.2 1278.9 845.7 1291.6 846.2 1302.2 846.7 1311.0 847.2 1318.1 847.7 1323.9 848.2 1328.6 848.7 1332.3 849.2 1335.2 849.7 1337.4 850.2 1338.9 850.7 1339.8 851.2 1340.0 851.7 1339.6 852.2 1338.5 852.7 1336.4 853.2 1333.3 853.7 1328.7 854.2 1321.9 854.7 1312.2 855.2 1297.8 855.7 1276.6 856.2 1246.4 856.7 1209.2 857.2 1180.0 857.4 1176.0 857.7 1180.7 858.2 1207.8 858.7 1238.1 859.2 1259.5 859.7 1271.3 860.2 1275.0 860.7 1272.3 861.2 1263.4 861.7 1248.0 862.2 1224.4 862.7 1190.1 863.2 1141.8 863.7 1076.3 864.2 995.3 864.7 914.8 865.2 870.3 865.3 869.0 865.7 891.0 866.2 962.7 866.7 1047.5 867.2 1120.9 867.7 1177.0 868.2 1217.8 868.7 1247.1 869.2 1267.8 869.7 1282.3 870.2 1291.7 870.7 1296.8 871.2 1297.7 871.7 1294.6 872.2 1289.8 872.7 1289.0 873.2 1296.2 873.7 1307.8 874.2 1318.3 874.7 1326.0 875.2 1331.2 875.7 1334.7 876.2 1336.8 876.7 1337.9 877.2 1338.2 877.7 1337.7 878.2 1336.7 878.7 1334.9 879.2 1332.5 879.7 1329.3 880.2 1325.1 880.7 1319.9 881.2 1313.3 881.7 1305.0 882.2 1294.6 882.7 1281.6 883.2 1265.2 883.7 1244.7 884.2 1219.5 884.7 1189.2 885.2 1155.1 885.7 1120.6 886.2 1092.6 886.7 1079.1 886.8 1078.7 887.2 1085.0 887.7 1108.2 888.2 1141.0 888.7 1175.9 889.2 1208.0 889.7 1235.2 890.2 1257.6 890.7 1275.5 891.2 1289.9 891.7 1301.3 892.2 1310.5 892.7 1317.8 893.2 1323.8 893.7 1328.6 894.2 1332.5 894.7 1335.6 895.2 1338.1 895.7 1340.1 896.2 1341.6 896.7 1342.7 897.2 1343.4 897.7 1343.8 898.2 1343.9 898.7 1343.6 899.2 1343.0 899.7 1342.0 900.2 1340.7 900.7 1338.8 901.2 1336.5 901.7 1333.5 902.2 1329.8 902.7 1325.1 903.2 1319.1 903.7 1311.5 904.2 1301.8 904.7 1289.2 905.2 1272.8 905.7 1251.6 906.2 1224.9 906.7 1193.9 907.2 1163.3 907.7 1142.2 907.9 1138.6 908.2 1139.0 908.7 1152.2 909.2 1172.3 909.7 1190.4 910.2 1202.1 910.7 1206.2 911.2 1202.9 911.7 1192.5 912.2 1175.3 912.7 1151.8 913.2 1123.3 913.7 1093.0 914.2 1066.3 914.7 1050.2 915.0 1048.2 915.2 1050.4 915.7 1067.7 916.2 1097.2 916.7 1132.2 917.2 1166.9 917.7 1198.3 918.2 1225.1 918.7 1247.4 919.2 1265.6 919.7 1280.5 920.2 1292.7 920.7 1302.6 921.2 1310.8 921.7 1317.6 922.2 1323.2 922.7 1327.8 923.2 1331.7 923.7 1334.9 924.2 1337.5 924.7 1339.7 925.2 1341.4 925.7 1342.7 926.2 1343.6 926.7 1344.1 927.2 1344.3 927.7 1344.0 928.2 1343.2 928.7 1341.9 929.2 1339.8 929.7 1336.8 930.2 1332.7 930.7 1326.9 931.2 1319.0 931.7 1307.9 932.2 1292.6 932.7 1272.1 933.2 1246.5 933.7 1220.0 934.2 1202.6 934.4 1200.8 934.7 1204.7 935.2 1224.8 935.7 1251.7 936.2 1276.2 936.7 1295.3 937.2 1309.1 937.7 1318.7 938.2 1325.0 938.7 1328.6 939.2 1329.6 939.7 1328.1 940.2 1323.3 940.7 1314.6 941.2 1302.3 941.7 1291.3 942.0 1289.2 942.2 1290.7 942.7 1302.0 943.2 1316.4 943.7 1327.9 944.2 1335.6 944.7 1340.3 945.2 1342.7 945.7 1343.3 946.2 1342.0 946.7 1338.8 947.2 1332.8 947.7 1323.3 948.2 1310.6 948.7 1299.3 949.0 1297.1 949.2 1298.3 949.7 1308.8 950.2 1322.4 950.7 1333.4 951.2 1340.9 951.7 1345.8 952.2 1348.9 952.7 1350.8 953.2 1351.8 953.7 1352.0 954.2 1351.7 954.7 1350.7 955.2 1349.1 955.7 1346.8 956.2 1343.8 956.7 1340.1 957.2 1335.9 957.7 1332.0 958.2 1329.4 958.4 1328.9 958.7 1328.8 959.2 1330.1 959.7 1332.3 960.2 1334.5 960.7 1335.8 961.2 1336.0 961.7 1334.9 962.2 1332.3 962.7 1327.8 963.2 1321.2 963.7 1311.5 964.2 1297.8 964.7 1278.9 965.2 1254.1 965.7 1225.8 966.2 1202.1 966.6 1195.0 966.7 1195.5 967.2 1210.7 967.7 1238.1 968.2 1266.1 968.7 1289.1 969.2 1306.4 969.7 1319.1 970.2 1328.4 970.7 1335.3 971.2 1340.5 971.7 1344.4 972.2 1347.4 972.7 1349.8 973.2 1351.6 973.7 1353.0 974.2 1354.0 974.7 1354.8 975.2 1355.4 975.7 1355.8 976.2 1356.0 976.7 1356.0 977.2 1355.9 977.7 1355.5 978.2 1355.0 978.7 1354.2 979.2 1353.2 979.7 1351.8 980.2 1350.0 980.7 1347.6 981.2 1344.6 981.7 1340.5 982.2 1335.1 982.7 1328.0 983.2 1318.8 983.7 1307.1 984.2 1293.7 984.7 1281.5 985.2 1275.0 985.3 1274.8 985.7 1277.6 986.2 1287.8 986.7 1300.7 987.2 1312.8 987.7 1322.6 988.2 1330.0 988.7 1335.5 989.2 1339.4 989.7 1342.1 990.2 1343.9 990.7 1345.0 991.2 1345.4 991.7 1345.1 992.2 1344.2 992.7 1342.6 993.2 1340.1 993.7 1336.5 994.2 1331.4 994.7 1324.3 995.2 1314.4 995.7 1301.1 996.2 1284.5 996.7 1267.3 997.2 1256.1 997.4 1254.9 997.7 1257.4 998.2 1270.3 998.7 1287.6 999.2 1303.5 999.7 1316.0 1000.2 1325.1 1000.7 1331.7 1001.2 1336.3 1001.7 1339.5 1002.2 1341.7 1002.7 1343.0 1003.2 1343.5 1003.7 1343.5 1004.2 1342.8 1004.7 1341.5 1005.2 1339.5 1005.7 1336.9 1006.2 1333.8 1006.7 1330.3 1007.2 1327.0 1007.7 1324.7 1008.2 1324.0 1008.7 1325.2 1009.2 1328.1 1009.7 1331.9 1010.2 1336.0 1010.7 1339.8 1011.2 1343.2 1011.7 1346.0 1012.2 1348.3 1012.7 1350.3 1013.2 1351.8 1013.7 1353.1 1014.2 1354.1 1014.7 1355.0 1015.2 1355.7 1015.7 1356.3 1016.2 1356.7 1016.7 1357.1 1017.2 1357.4 1017.7 1357.6 1018.2 1357.8 1018.7 1357.9 1019.2 1358.0 1019.7 1358.0 1020.2 1358.0 1020.7 1357.9 1021.2 1357.7 1021.7 1357.5 1022.2 1357.2 1022.7 1356.8 1023.2 1356.4 1023.7 1355.8 1024.2 1355.0 1024.7 1354.1 1025.2 1352.9 1025.7 1351.4 1026.2 1349.6 1026.7 1347.3 1027.2 1344.6 1027.7 1341.5 1028.2 1338.4 1028.7 1335.9 1029.2 1334.7 1029.3 1334.7 1029.7 1335.2 1030.2 1337.2 1030.7 1340.0 1031.2 1343.1 1031.7 1345.9 1032.2 1348.3 1032.7 1350.2 1033.2 1351.8 1033.7 1353.1 1034.2 1354.1 1034.7 1354.9 1035.2 1355.5 1035.7 1356.0 1036.2 1356.3 1036.7 1356.6 1037.2 1356.9 1037.7 1357.0 1038.2 1357.1 1038.7 1357.2 1039.2 1357.2 1039.7 1357.1 1040.2 1357.0 1040.7 1356.9 1041.2 1356.8 1041.7 1356.5 1042.2 1356.3 1042.7 1355.9 1043.2 1355.6 1043.7 1355.1 1044.2 1354.5 1044.7 1353.9 1045.2 1353.1 1045.7 1352.2 1046.2 1351.0 1046.7 1349.7 1047.2 1348.0 1047.7 1345.9 1048.2 1343.3 1048.7 1339.9 1049.2 1335.6 1049.7 1329.9 1050.2 1322.3 1050.7 1312.1 1051.2 1298.4 1051.7 1280.7 1052.2 1259.5 1052.7 1239.2 1053.2 1228.2 1053.3 1227.8 1053.7 1232.9 1054.2 1250.2 1054.7 1271.5 1055.2 1290.5 1055.7 1305.4 1056.2 1316.4 1056.7 1324.5 1057.2 1330.4 1057.7 1334.7 1058.2 1337.8 1058.7 1340.0 1059.2 1341.5 1059.7 1342.4 1060.2 1342.9 1060.7 1342.8 1061.2 1342.4 1061.7 1341.4 1062.2 1339.9 1062.7 1337.6 1063.2 1334.5 1063.7 1330.3 1064.2 1324.4 1064.7 1316.4 1065.2 1305.4 1065.7 1290.7 1066.2 1272.4 1066.7 1253.0 1067.2 1239.3 1067.4 1237.2 1067.7 1238.2 1068.2 1248.6 1068.7 1262.4 1069.2 1273.4 1069.7 1279.3 1070.2 1280.5 1070.7 1279.2 1071.2 1278.6 1071.5 1280.0 1071.7 1282.0 1072.2 1290.1 1072.7 1300.9 1073.2 1311.5 1073.7 1320.7 1074.2 1328.0 1074.7 1333.8 1075.2 1338.2 1075.7 1341.6 1076.2 1344.3 1076.7 1346.4 1077.2 1348.0 1077.7 1349.3 1078.2 1350.3 1078.7 1351.0 1079.2 1351.5 1079.7 1351.7 1080.2 1351.8 1080.7 1351.5 1081.2 1351.0 1081.7 1350.0 1082.2 1348.6 1082.7 1346.6 1083.2 1344.1 1083.7 1341.5 1084.2 1339.7 1084.5 1339.4 1084.7 1339.7 1085.2 1341.5 1085.7 1344.4 1086.2 1347.3 1086.7 1349.8 1087.2 1351.7 1087.7 1353.2 1088.2 1354.3 1088.7 1355.1 1089.2 1355.7 1089.7 1356.2 1090.2 1356.5 1090.7 1356.8 1091.2 1357.0 1091.7 1357.0 1092.2 1357.1 1092.7 1357.1 1093.2 1357.0 1093.7 1356.8 1094.2 1356.7 1094.7 1356.4 1095.2 1356.1 1095.7 1355.8 1096.2 1355.3 1096.7 1354.8 1097.2 1354.1 1097.7 1353.3 1098.2 1352.4 1098.7 1351.3 1099.2 1349.9 1099.7 1348.2 1100.2 1346.2 1100.7 1343.6 1101.2 1340.3 1101.7 1336.1 1102.2 1330.8 1102.7 1323.8 1103.2 1314.8 1103.7 1303.3 1104.2 1289.5 1104.7 1274.7 1105.2 1262.4 1105.7 1257.2 1106.2 1261.6 1106.7 1273.1 1107.2 1287.1 1107.7 1299.9 1108.2 1310.4 1108.7 1318.2 1109.2 1323.7 1109.7 1327.4 1110.2 1329.5 1110.7 1330.3 1111.2 1329.7 1111.7 1327.7 1112.2 1324.3 1112.7 1319.3 1113.2 1312.7 1113.7 1305.1 1114.2 1297.8 1114.7 1293.0 1115.0 1292.4 1115.2 1293.1 1115.7 1298.1 1116.2 1306.4 1116.7 1315.4 1117.2 1323.6 1117.7 1330.6 1118.2 1336.2 1118.7 1340.6 1119.2 1344.0 1119.7 1346.8 1120.2 1349.0 1120.7 1350.8 1121.2 1352.3 1121.7 1353.5 1122.2 1354.5 1122.7 1355.4 1123.2 1356.1 1123.7 1356.7 1124.2 1357.2 1124.7 1357.6 1125.2 1358.0 1125.7 1358.4 1126.2 1358.7 1126.7 1358.9 1127.2 1359.1 1127.7 1359.3 1128.2 1359.5 1128.7 1359.6 1129.2 1359.8 1129.7 1359.9 1130.2 1359.9 1130.7 1360.0 1131.2 1360.0 1131.7 1360.1 1132.2 1360.1 1132.7 1360.1 1133.2 1360.0 1133.7 1360.0 1134.2 1359.9 1134.7 1359.8 1135.2 1359.6 1135.7 1359.4 1136.2 1359.2 1136.7 1358.9 1137.2 1358.5 1137.7 1357.9 1138.2 1357.2 1138.7 1356.2 1139.2 1354.9 1139.7 1352.9 1140.2 1350.0 1140.7 1345.9 1141.2 1340.6 1141.7 1335.8 1142.0 1334.8 1142.2 1335.1 1142.7 1338.9 1143.2 1343.8 1143.7 1347.8 1144.2 1350.4 1144.7 1352.0 1145.2 1352.9 1145.7 1353.2 1146.2 1353.2 1146.7 1352.9 1147.2 1352.3 1147.7 1351.3 1148.2 1350.1 1148.7 1348.4 1149.2 1346.2 1149.7 1343.3 1150.2 1339.6 1150.7 1334.7 1151.2 1328.4 1151.7 1320.4 1152.2 1310.6 1152.7 1299.8 1153.2 1290.4 1153.7 1285.6 1153.8 1285.4 1154.2 1287.6 1154.7 1295.6 1155.2 1306.1 1155.7 1316.4 1156.2 1325.1 1156.7 1332.0 1157.2 1337.4 1157.7 1341.4 1158.2 1344.6 1158.7 1347.0 1159.2 1348.9 1159.7 1350.3 1160.2 1351.4 1160.7 1352.3 1161.2 1352.9 1161.7 1353.4 1162.2 1353.7 1162.7 1353.9 1163.2 1353.9 1163.7 1353.9 1164.2 1353.7 1164.7 1353.4 1165.2 1353.0 1165.7 1352.4 1166.2 1351.6 1166.7 1350.7 1167.2 1349.5 1167.7 1348.0 1168.2 1346.2 1168.7 1344.1 1169.2 1341.4 1169.7 1338.2 1170.2 1334.5 1170.7 1330.5 1171.2 1326.3 1171.7 1322.6 1172.2 1320.1 1172.6 1319.4 1172.7 1319.4 1173.2 1320.6 1173.7 1323.4 1174.2 1327.1 1174.7 1331.0 1175.2 1334.6 1175.7 1337.7 1176.2 1340.3 1176.7 1342.4 1177.2 1344.0 1177.7 1345.2 1178.2 1346.0 1178.7 1346.4 1179.2 1346.5 1179.7 1346.2 1180.2 1345.7 1180.7 1344.6 1181.2 1343.1 1181.7 1340.9 1182.2 1337.9 1182.7 1333.6 1183.2 1327.6 1183.7 1319.1 1184.2 1307.8 1184.7 1294.6 1185.2 1283.5 1185.5 1280.7 1185.7 1280.9 1186.2 1287.6 1186.7 1297.4 1187.2 1305.4 1187.7 1310.0 1188.2 1311.1 1188.7 1309.2 1189.2 1304.5 1189.7 1297.4 1190.2 1288.6 1190.7 1280.0 1191.2 1274.4 1191.4 1273.6 1191.7 1274.1 1192.2 1278.6 1192.7 1285.6 1193.2 1292.2 1193.7 1296.9 1194.2 1299.2 1194.7 1299.0 1195.2 1296.1 1195.7 1290.8 1196.2 1283.2 1196.7 1273.6 1197.2 1263.2 1197.7 1253.9 1198.2 1248.4 1198.5 1247.8 1198.7 1248.7 1199.2 1255.1 1199.7 1265.8 1200.2 1278.4 1200.7 1290.7 1201.2 1301.8 1201.7 1311.1 1202.2 1318.8 1202.7 1325.1 1203.2 1330.2 1203.7 1334.4 1204.2 1337.7 1204.7 1340.5 1205.2 1342.7 1205.7 1344.5 1206.2 1346.0 1206.7 1347.2 1207.2 1348.1 1207.7 1348.8 1208.2 1349.2 1208.7 1349.4 1209.2 1349.4 1209.7 1349.1 1210.2 1348.6 1210.7 1347.6 1211.2 1346.2 1211.7 1344.2 1212.2 1341.5 1212.7 1338.0 1213.2 1333.7 1213.7 1328.8 1214.2 1324.5 1214.7 1322.0 1214.9 1321.8 1215.2 1322.5 1215.7 1325.9 1216.2 1330.9 1216.7 1336.1 1217.2 1340.8 1217.7 1344.6 1218.2 1347.6 1218.7 1350.1 1219.2 1351.9 1219.7 1353.4 1220.2 1354.7 1220.7 1355.6 1221.2 1356.4 1221.7 1357.1 1222.2 1357.7 1222.7 1358.1 1223.2 1358.5 1223.7 1358.9 1224.2 1359.1 1224.7 1359.4 1225.2 1359.6 1225.7 1359.8 1226.2 1360.0 1226.7 1360.1 1227.2 1360.2 1227.7 1360.3 1228.2 1360.4 1228.7 1360.5 1229.2 1360.5 1229.7 1360.5 1230.2 1360.6 1230.7 1360.6 1231.2 1360.6 1231.7 1360.6 1232.2 1360.5 1232.7 1360.5 1233.2 1360.4 1233.7 1360.4 1234.2 1360.3 1234.7 1360.2 1235.2 1360.0 1235.7 1359.9 1236.2 1359.7 1236.7 1359.5 1237.2 1359.2 1237.7 1358.9 1238.2 1358.6 1238.7 1358.2 1239.2 1357.7 1239.7 1357.0 1240.2 1356.3 1240.7 1355.4 1241.2 1354.3 1241.7 1353.0 1242.2 1351.2 1242.7 1349.1 1243.2 1346.2 1243.7 1342.6 1244.2 1338.0 1244.7 1332.2 1245.2 1325.4 1245.7 1318.4 1246.2 1313.0 1246.6 1311.2 1246.7 1311.2 1247.2 1313.8 1247.7 1319.2 1248.2 1325.3 1248.7 1330.6 1249.2 1334.7 1249.7 1337.3 1250.2 1338.6 1250.7 1338.7 1251.2 1337.6 1251.7 1335.3 1252.2 1331.9 1252.7 1328.1 1253.2 1325.0 1253.7 1324.0 1254.2 1326.0 1254.7 1330.3 1255.2 1335.4 1255.7 1340.1 1256.2 1344.1 1256.7 1347.2 1257.2 1349.7 1257.7 1351.6 1258.2 1353.1 1258.7 1354.2 1259.2 1355.1 1259.7 1355.9 1260.2 1356.4 1260.7 1356.9 1261.2 1357.3 1261.7 1357.5 1262.2 1357.8 1262.7 1357.9 1263.2 1358.1 1263.7 1358.1 1264.2 1358.2 1264.7 1358.2 1265.2 1358.1 1265.7 1358.0 1266.2 1357.9 1266.7 1357.8 1267.2 1357.6 1267.7 1357.4 1268.2 1357.1 1268.7 1356.8 1269.2 1356.4 1269.7 1355.9 1270.2 1355.4 1270.7 1354.7 1271.2 1354.0 1271.7 1353.1 1272.2 1352.1 1272.7 1350.9 1273.2 1349.5 1273.7 1347.8 1274.2 1345.7 1274.7 1343.2 1275.2 1340.3 1275.7 1336.9 1276.2 1332.9 1276.7 1328.4 1277.2 1323.8 1277.7 1319.4 1278.2 1315.9 1278.7 1314.1 1278.9 1313.9 1279.2 1314.3 1279.7 1316.5 1280.2 1320.2 1280.7 1324.7 1281.2 1329.3 1281.7 1333.6 1282.2 1337.5 1282.7 1340.8 1283.2 1343.6 1283.7 1345.9 1284.2 1347.9 1284.7 1349.5 1285.2 1350.9 1285.7 1352.0 1286.2 1352.9 1286.7 1353.7 1287.2 1354.3 1287.7 1354.8 1288.2 1355.3 1288.7 1355.6 1289.2 1355.8 1289.7 1356.0 1290.2 1356.1 1290.7 1356.2 1291.2 1356.1 1291.7 1356.0 1292.2 1355.8 1292.7 1355.5 1293.2 1355.0 1293.7 1354.5 1294.2 1353.8 1294.7 1352.9 1295.2 1351.9 1295.7 1350.5 1296.2 1349.0 1296.7 1347.2 1297.2 1345.3 1297.7 1343.4 1298.2 1341.8 1298.7 1340.8 1299.0 1340.6 1299.2 1340.7 1299.7 1341.5 1300.2 1343.0 1300.7 1344.8 1301.2 1346.7 1301.7 1348.5 1302.2 1350.0 1302.7 1351.2 1303.2 1352.2 1303.7 1352.9 1304.2 1353.3 1304.7 1353.5 1305.2 1353.3 1305.7 1352.7 1306.2 1351.5 1306.7 1349.5 1307.2 1346.5 1307.7 1343.0 1308.2 1340.8 1308.3 1340.7 1308.7 1342.0 1309.2 1345.6 1309.7 1349.2 1310.2 1351.8 1310.7 1353.6 1311.2 1354.8 1311.7 1355.6 1312.2 1356.1 1312.7 1356.4 1313.2 1356.6 1313.7 1356.6 1314.2 1356.6 1314.7 1356.4 1315.2 1356.2 1315.7 1355.9 1316.2 1355.4 1316.7 1354.9 1317.2 1354.2 1317.7 1353.4 1318.2 1352.3 1318.7 1351.0 1319.2 1349.4 1319.7 1347.3 1320.2 1344.7 1320.7 1341.4 1321.2 1337.4 1321.7 1332.5 1322.2 1327.2 1322.7 1322.3 1323.2 1319.0 1323.5 1318.3 1323.7 1318.5 1324.2 1320.9 1324.7 1325.3 1325.2 1330.3 1325.7 1334.9 1326.2 1338.7 1326.7 1341.8 1327.2 1344.1 1327.7 1345.8 1328.2 1347.0 1328.7 1347.9 1329.2 1348.4 1329.7 1348.7 1330.2 1348.7 1330.7 1348.6 1331.2 1348.2 1331.7 1347.7 1332.2 1347.0 1332.7 1346.1 1333.2 1345.0 1333.7 1343.6 1334.2 1342.1 1334.7 1340.3 1335.2 1338.3 1335.7 1336.1 1336.2 1333.7 1336.7 1331.2 1337.2 1328.6 1337.7 1326.1 1338.2 1323.9 1338.7 1322.2 1339.2 1321.1 1339.5 1320.8 1339.7 1320.7 1340.2 1321.1 1340.7 1322.1 1341.2 1323.5 1341.7 1325.1 1342.2 1326.8 1342.7 1328.2 1343.2 1329.2 1343.7 1329.8 1344.2 1329.7 1344.7 1329.0 1345.2 1327.9 1345.7 1326.6 1346.2 1325.9 1346.6 1326.3 1346.7 1326.5 1347.2 1328.6 1347.7 1331.8 1348.2 1335.3 1348.7 1338.7 1349.2 1341.6 1349.7 1343.9 1350.2 1345.8 1350.7 1347.3 1351.2 1348.4 1351.7 1349.2 1352.2 1349.8 1352.7 1350.1 1353.2 1350.3 1353.7 1350.2 1354.2 1350.0 1354.7 1349.5 1355.2 1348.7 1355.7 1347.6 1356.2 1346.2 1356.7 1344.4 1357.2 1342.0 1357.7 1338.9 1358.2 1335.2 1358.7 1330.7 1359.2 1325.5 1359.7 1320.3 1360.2 1315.8 1360.7 1313.3 1360.9 1313.0 1361.2 1313.5 1361.7 1316.3 1362.2 1320.8 1362.7 1325.8 1363.2 1330.5 1363.7 1334.4 1364.2 1337.3 1364.7 1339.2 1365.2 1340.0 1365.7 1339.7 1366.2 1338.1 1366.7 1335.2 1367.2 1331.4 1367.7 1328.4 1368.0 1328.1 1368.2 1328.8 1368.7 1332.8 1369.2 1338.3 1369.7 1343.3 1370.2 1347.1 1370.7 1350.0 1371.2 1352.1 1371.7 1353.6 1372.2 1354.8 1372.7 1355.6 1373.2 1356.3 1373.7 1356.8 1374.2 1357.1 1374.7 1357.4 1375.2 1357.5 1375.7 1357.6 1376.2 1357.5 1376.7 1357.4 1377.2 1357.1 1377.7 1356.7 1378.2 1356.1 1378.7 1355.3 1379.2 1354.2 1379.7 1352.8 1380.2 1351.0 1380.7 1349.1 1381.2 1347.2 1381.7 1346.1 1381.9 1346.0 1382.2 1346.2 1382.7 1347.5 1383.2 1349.3 1383.7 1351.3 1384.2 1352.9 1384.7 1354.2 1385.2 1355.2 1385.7 1355.9 1386.2 1356.4 1386.7 1356.7 1387.2 1356.9 1387.7 1357.0 1388.2 1357.0 1388.7 1356.8 1389.2 1356.6 1389.7 1356.3 1390.2 1355.9 1390.7 1355.4 1391.2 1354.7 1391.7 1353.9 1392.2 1353.0 1392.7 1351.9 1393.2 1350.5 1393.7 1348.9 1394.2 1346.9 1394.7 1344.4 1395.2 1341.4 1395.7 1337.7 1396.2 1333.2 1396.7 1327.8 1397.2 1321.2 1397.7 1313.8 1398.2 1305.8 1398.7 1298.3 1399.2 1292.8 1399.7 1290.7 1400.2 1292.7 1400.7 1298.1 1401.2 1305.4 1401.7 1313.3 1402.2 1320.6 1402.7 1327.0 1403.2 1332.3 1403.7 1336.6 1404.2 1340.0 1404.7 1342.8 1405.2 1344.9 1405.7 1346.5 1406.2 1347.7 1406.7 1348.5 1407.2 1348.9 1407.7 1349.0 1408.2 1348.6 1408.7 1347.8 1409.2 1346.5 1409.7 1344.6 1410.2 1341.9 1410.7 1338.4 1411.2 1334.3 1411.7 1330.2 1412.2 1327.1 1412.6 1326.3 1412.7 1326.4 1413.2 1328.3 1413.7 1332.1 1414.2 1336.5 1414.7 1340.4 1415.2 1343.6 1415.7 1346.0 1416.2 1347.7 1416.7 1348.7 1417.2 1349.0 1417.7 1348.8 1418.2 1347.9 1418.7 1346.3 1419.2 1343.9 1419.7 1340.6 1420.2 1336.7 1420.7 1332.9 1421.2 1330.4 1421.5 1330.0 1421.7 1330.4 1422.2 1333.1 1422.7 1337.3 1423.2 1341.9 1423.7 1346.0 1424.2 1349.4 1424.7 1352.0 1425.2 1354.0 1425.7 1355.6 1426.2 1356.9 1426.7 1357.8 1427.2 1358.6 1427.7 1359.2 1428.2 1359.7 1428.7 1360.1 1429.2 1360.3 1429.7 1360.5 1430.2 1360.6 1430.7 1360.6 1431.2 1360.5 1431.7 1360.3 1432.2 1360.0 1432.7 1359.5 1433.2 1359.0 1433.7 1358.3 1434.2 1357.8 1434.7 1357.5 1434.9 1357.5 1435.2 1357.6 1435.7 1358.2 1436.2 1358.9 1436.7 1359.7 1437.2 1360.4 1437.7 1361.1 1438.2 1361.6 1438.7 1362.0 1439.2 1362.3 1439.7 1362.5 1440.2 1362.7 1440.7 1362.9 1441.2 1363.0 1441.7 1363.1 1442.2 1363.1 1442.7 1363.2 1443.2 1363.2 1443.7 1363.2 1444.2 1363.1 1444.7 1363.1 1445.2 1363.0 1445.7 1362.9 1446.2 1362.7 1446.7 1362.5 1447.2 1362.3 1447.7 1362.0 1448.2 1361.7 1448.7 1361.3 1449.2 1360.8 1449.7 1360.2 1450.2 1359.4 1450.7 1358.5 1451.2 1357.3 1451.7 1355.9 1452.2 1354.3 1452.7 1352.5 1453.2 1350.7 1453.7 1349.3 1454.2 1348.6 1454.3 1348.6 1454.7 1348.8 1455.2 1349.9 1455.7 1351.4 1456.2 1353.1 1456.7 1354.7 1457.2 1356.0 1457.7 1357.1 1458.2 1357.9 1458.7 1358.5 1459.2 1359.0 1459.7 1359.3 1460.2 1359.5 1460.7 1359.5 1461.2 1359.4 1461.7 1359.2 1462.2 1358.9 1462.7 1358.5 1463.2 1357.9 1463.7 1357.2 1464.2 1356.2 1464.7 1355.0 1465.2 1353.5 1465.7 1351.6 1466.2 1349.2 1466.7 1346.2 1467.2 1342.3 1467.7 1337.5 1468.2 1331.6 1468.7 1324.7 1469.2 1317.6 1469.7 1311.6 1470.2 1308.6 1470.3 1308.5 1470.7 1309.8 1471.2 1314.6 1471.7 1321.2 1472.2 1328.1 1472.7 1334.2 1473.2 1339.1 1473.7 1343.0 1474.2 1345.8 1474.7 1347.9 1475.2 1349.2 1475.7 1350.0 1476.2 1350.4 1476.7 1350.7 1477.2 1351.1 1477.4 1351.3 1477.7 1351.8 1478.2 1352.9 1478.7 1354.2 1479.2 1355.4 1479.7 1356.5 1480.2 1357.4 1480.7 1358.1 1481.2 1358.6 1481.7 1359.0 1482.2 1359.2 1482.7 1359.3 1483.2 1359.2 1483.7 1359.1 1484.2 1358.9 1484.7 1358.5 1485.2 1358.1 1485.7 1357.5 1486.2 1356.7 1486.7 1355.7 1487.2 1354.4 1487.7 1352.9 1488.2 1350.9 1488.7 1348.3 1489.2 1345.2 1489.7 1341.3 1490.2 1336.8 1490.7 1332.2 1491.2 1328.2 1491.7 1326.0 1492.2 1326.1 1492.7 1327.9 1493.2 1330.2 1493.7 1332.2 1494.2 1333.2 1494.7 1333.0 1495.2 1331.8 1495.7 1329.4 1496.2 1326.0 1496.7 1321.8 1497.2 1317.0 1497.7 1312.5 1498.2 1309.0 1498.7 1307.6 1498.8 1307.6 1499.2 1308.7 1499.7 1312.1 1500.2 1317.0 1500.7 1322.6 1501.2 1328.1 1501.7 1333.0 1502.2 1337.3 1502.7 1340.8 1503.2 1343.7 1503.7 1346.0 1504.2 1347.9 1504.7 1349.3 1505.2 1350.3 1505.7 1351.0 1506.2 1351.3 1506.7 1351.4 1507.2 1351.1 1507.7 1350.5 1508.2 1349.5 1508.7 1348.1 1509.2 1346.1 1509.7 1343.6 1510.2 1340.5 1510.7 1336.8 1511.2 1332.9 1511.7 1329.3 1512.2 1326.9 1512.6 1326.3 1512.7 1326.4 1513.2 1328.0 1513.7 1331.4 1514.2 1335.5 1514.7 1339.8 1515.2 1343.7 1515.7 1347.0 1516.2 1349.8 1516.7 1352.0 1517.2 1353.9 1517.7 1355.4 1518.2 1356.6 1518.7 1357.6 1519.2 1358.4 1519.7 1359.1 1520.2 1359.6 1520.7 1360.1 1521.2 1360.5 1521.7 1360.8 1522.2 1361.0 1522.7 1361.2 1523.2 1361.4 1523.7 1361.5 1524.2 1361.6 1524.7 1361.6 1525.2 1361.6 1525.7 1361.6 1526.2 1361.6 1526.7 1361.5 1527.2 1361.4 1527.7 1361.3 1528.2 1361.1 1528.7 1360.9 1529.2 1360.7 1529.7 1360.4 1530.2 1360.1 1530.7 1359.7 1531.2 1359.3 1531.7 1358.8 1532.2 1358.3 1532.7 1357.7 1533.2 1357.0 1533.7 1356.2 1534.2 1355.2 1534.7 1354.2 1535.2 1352.9 1535.7 1351.5 1536.2 1349.9 1536.7 1348.1 1537.2 1346.0 1537.7 1343.7 1538.2 1341.1 1538.7 1338.3 1539.2 1335.5 1539.7 1332.6 1540.2 1330.0 1540.7 1327.9 1541.2 1326.5 1541.6 1326.1 1541.7 1326.1 1542.2 1326.6 1542.7 1328.0 1543.2 1330.1 1543.7 1332.5 1544.2 1335.0 1544.7 1337.5 1545.2 1339.9 1545.7 1341.9 1546.2 1343.7 1546.7 1345.1 1547.2 1346.3 1547.7 1347.1 1548.2 1347.6 1548.7 1347.7 1549.2 1347.6 1549.7 1347.0 1550.2 1346.1 1550.7 1344.6 1551.2 1342.5 1551.7 1339.7 1552.2 1336.2 1552.7 1332.0 1553.2 1327.5 1553.7 1323.5 1554.2 1321.0 1554.5 1320.6 1554.7 1320.9 1555.2 1323.4 1555.7 1327.7 1556.2 1332.6 1556.7 1337.4 1557.2 1341.5 1557.7 1345.0 1558.2 1347.8 1558.7 1350.1 1559.2 1351.9 1559.7 1353.3 1560.2 1354.5 1560.7 1355.5 1561.2 1356.3 1561.7 1356.9 1562.2 1357.4 1562.7 1357.9 1563.2 1358.2 1563.7 1358.5 1564.2 1358.8 1564.7 1359.0 1565.2 1359.1 1565.7 1359.2 1566.2 1359.3 1566.7 1359.3 1567.2 1359.4 1567.7 1359.3 1568.2 1359.3 1568.7 1359.2 1569.2 1359.1 1569.7 1359.0 1570.2 1358.9 1570.7 1358.7 1571.2 1358.4 1571.7 1358.2 1572.2 1357.9 1572.7 1357.5 1573.2 1357.1 1573.7 1356.6 1574.2 1356.0 1574.7 1355.3 1575.2 1354.5 1575.7 1353.6 1576.2 1352.5 1576.7 1351.1 1577.2 1349.5 1577.7 1347.6 1578.2 1345.2 1578.7 1342.2 1579.2 1338.5 1579.7 1333.9 1580.2 1328.2 1580.7 1321.3 1581.2 1313.3 1581.7 1304.8 1582.2 1297.0 1582.7 1292.0 1583.0 1291.1 1583.2 1291.4 1583.7 1295.5 1584.2 1302.6 1584.7 1310.9 1585.2 1318.8 1585.7 1325.7 1586.2 1331.4 1586.7 1335.9 1587.2 1339.4 1587.7 1342.2 1588.2 1344.4 1588.7 1346.0 1589.2 1347.2 1589.7 1348.0 1590.2 1348.4 1590.7 1348.5 1591.2 1348.2 1591.7 1347.5 1592.2 1346.2 1592.7 1344.1 1593.2 1341.2 1593.7 1337.8 1594.2 1334.9 1594.6 1333.9 1594.7 1334.0 1595.2 1335.7 1595.7 1338.8 1596.2 1341.7 1596.7 1343.7 1597.2 1344.6 1597.7 1344.5 1598.2 1343.1 1598.7 1340.7 1599.2 1338.5 1599.5 1338.1 1599.7 1338.5 1600.2 1341.1 1600.7 1344.5 1601.2 1347.1 1601.7 1348.9 1602.2 1350.0 1602.7 1350.6 1603.2 1350.9 1603.7 1351.0 1604.2 1350.9 1604.7 1350.7 1605.2 1350.3 1605.7 1349.9 1606.2 1349.2 1606.7 1348.5 1607.2 1347.6 1607.7 1346.6 1608.2 1345.4 1608.7 1344.0 1609.2 1342.3 1609.7 1340.4 1610.2 1338.2 1610.7 1335.7 1611.2 1332.8 1611.7 1329.6 1612.2 1326.2 1612.7 1322.6 1613.2 1319.2 1613.7 1316.2 1614.2 1314.0 1614.7 1313.0 1614.8 1313.0 1615.2 1313.3 1615.7 1314.8 1616.2 1317.2 1616.7 1320.3 1617.2 1323.5 1617.7 1326.8 1618.2 1329.8 1618.7 1332.5 1619.2 1334.9 1619.7 1337.0 1620.2 1338.7 1620.7 1340.2 1621.2 1341.4 1621.7 1342.3 1622.2 1343.1 1622.7 1343.7 1623.2 1344.1 1623.7 1344.4 1624.2 1344.5 1624.7 1344.5 1625.2 1344.3 1625.7 1344.0 1626.2 1343.6 1626.7 1342.9 1627.2 1342.1 1627.7 1341.0 1628.2 1339.7 1628.7 1338.0 1629.2 1335.9 1629.7 1333.4 1630.2 1330.2 1630.7 1326.3 1631.2 1321.7 1631.7 1316.5 1632.2 1310.9 1632.7 1305.5 1633.2 1301.2 1633.7 1299.2 1633.8 1299.1 1634.2 1299.9 1634.7 1303.1 1635.2 1307.8 1635.7 1313.0 1636.2 1317.9 1636.7 1322.1 1637.2 1325.5 1637.7 1328.0 1638.2 1329.7 1638.7 1330.7 1639.2 1331.2 1639.7 1331.3 1640.2 1331.3 1640.7 1331.4 1641.2 1332.0 1641.7 1333.2 1642.2 1334.9 1642.7 1336.9 1643.2 1338.9 1643.7 1340.8 1644.2 1342.6 1644.7 1344.0 1645.2 1345.3 1645.7 1346.3 1646.2 1347.2 1646.7 1347.9 1647.2 1348.4 1647.7 1348.9 1648.2 1349.2 1648.7 1349.4 1649.2 1349.5 1649.7 1349.5 1650.2 1349.4 1650.7 1349.1 1651.2 1348.6 1651.7 1347.9 1652.2 1346.9 1652.7 1345.5 1653.2 1343.4 1653.7 1340.6 1654.2 1336.9 1654.7 1332.1 1655.2 1327.1 1655.7 1323.4 1656.0 1322.7 1656.2 1323.1 1656.7 1326.5 1657.2 1331.6 1657.7 1336.7 1658.2 1340.9 1658.7 1344.2 1659.2 1346.5 1659.7 1348.3 1660.2 1349.7 1660.7 1350.7 1661.2 1351.5 1661.7 1352.1 1662.2 1352.5 1662.7 1352.7 1663.2 1352.9 1663.7 1353.0 1664.2 1353.0 1664.7 1352.9 1665.2 1352.7 1665.7 1352.3 1666.2 1351.9 1666.7 1351.2 1667.2 1350.2 1667.7 1348.7 1668.2 1346.6 1668.7 1343.4 1669.2 1338.8 1669.7 1332.8 1670.2 1327.6 1670.5 1326.4 1670.7 1327.0 1671.2 1331.6 1671.7 1337.7 1672.2 1342.6 1672.7 1346.0 1673.2 1348.4 1673.7 1349.9 1674.2 1351.0 1674.7 1351.8 1675.2 1352.3 1675.7 1352.7 1676.2 1353.0 1676.7 1353.3 1677.2 1353.4 1677.7 1353.5 1678.2 1353.6 1678.7 1353.7 1679.2 1353.7 1679.7 1353.7 1680.2 1353.7 1680.7 1353.7 1681.2 1353.7 1681.7 1353.6 1682.2 1353.6 1682.7 1353.5 1683.2 1353.5 1683.7 1353.4 1684.2 1353.3 1684.7 1353.2 1685.2 1353.0 1685.7 1352.9 1686.2 1352.8 1686.7 1352.6 1687.2 1352.4 1687.7 1352.2 1688.2 1352.0 1688.7 1351.7 1689.2 1351.4 1689.7 1351.1 1690.2 1350.8 1690.7 1350.3 1691.2 1349.9 1691.7 1349.3 1692.2 1348.8 1692.7 1348.1 1693.2 1347.4 1693.7 1346.5 1694.2 1345.5 1694.7 1344.3 1695.2 1343.0 1695.7 1341.5 1696.2 1340.0 1696.7 1338.7 1697.2 1337.6 1697.7 1336.9 1698.0 1336.9 1698.2 1336.9 1698.7 1337.5 1699.2 1338.6 1699.7 1340.0 1700.2 1341.6 1700.7 1343.1 1701.2 1344.5 1701.7 1345.8 1702.2 1347.0 1702.7 1347.9 1703.2 1348.8 1703.7 1349.5 1704.2 1350.1 1704.7 1350.6 1705.2 1351.1 1705.7 1351.5 1706.2 1351.8 1706.7 1352.1 1707.2 1352.3 1707.7 1352.5 1708.2 1352.6 1708.7 1352.8 1709.2 1352.9 1709.7 1352.9 1710.2 1353.0 1710.7 1353.0 1711.2 1353.0 1711.7 1352.9 1712.2 1352.9 1712.7 1352.8 1713.2 1352.6 1713.7 1352.4 1714.2 1352.2 1714.7 1351.9 1715.2 1351.5 1715.7 1351.0 1716.2 1350.3 1716.7 1349.5 1717.2 1348.5 1717.7 1347.2 1718.2 1345.4 1718.7 1343.1 1719.2 1340.1 1719.7 1336.3 1720.2 1331.5 1720.7 1326.2 1721.2 1321.7 1721.7 1319.7 1722.2 1321.3 1722.7 1325.4 1723.2 1330.3 1723.7 1334.7 1724.2 1338.1 1724.7 1340.6 1725.2 1342.3 1725.7 1343.4 1726.2 1343.9 1726.7 1344.0 1727.2 1343.8 1727.7 1343.0 1728.2 1341.8 1728.7 1339.9 1729.2 1337.2 1729.7 1333.1 1730.2 1327.3 1730.7 1319.2 1731.2 1309.8 1731.7 1303.1 1731.8 1302.7 1732.2 1303.8 1732.7 1309.5 1733.2 1314.9 1733.7 1317.9 1734.2 1318.6 1734.7 1317.7 1735.2 1315.5 1735.7 1312.7 1736.2 1309.6 1736.7 1306.9 1737.2 1305.0 1737.7 1304.4 1738.2 1305.3 1738.7 1307.5 1739.2 1310.6 1739.7 1314.3 1740.2 1317.9 1740.7 1321.3 1741.2 1324.2 1741.7 1326.5 1742.2 1328.1 1742.7 1329.0 1743.2 1329.2 1743.7 1328.5 1744.2 1326.9 1744.7 1324.3 1745.2 1320.7 1745.7 1316.4 1746.2 1311.9 1746.7 1308.3 1747.2 1306.9 1747.3 1306.9 1747.7 1308.5 1748.2 1312.7 1748.7 1318.4 1749.2 1324.4 1749.7 1330.0 1750.2 1334.7 1750.7 1338.6 1751.2 1341.8 1751.7 1344.4 1752.2 1346.4 1752.7 1348.1 1753.2 1349.4 1753.7 1350.5 1754.2 1351.5 1754.7 1352.2 1755.2 1352.9 1755.7 1353.4 1756.2 1353.8 1756.7 1354.2 1757.2 1354.5 1757.7 1354.7 1758.2 1354.9 1758.7 1355.1 1759.2 1355.2 1759.7 1355.2 1760.2 1355.2 1760.7 1355.2 1761.2 1355.1 1761.7 1355.0 1762.2 1354.8 1762.7 1354.5 1763.2 1354.2 1763.7 1353.9 1764.2 1353.4 1764.7 1352.9 1765.2 1352.3 1765.7 1351.6 1766.2 1350.9 1766.7 1350.2 1767.2 1349.6 1767.7 1349.1 1768.2 1348.9 1768.5 1348.9 1768.7 1348.9 1769.2 1349.1 1769.7 1349.6 1770.2 1350.3 1770.7 1351.0 1771.2 1351.7 1771.7 1352.5 1772.2 1353.2 1772.7 1353.8 1773.2 1354.3 1773.7 1354.8 1774.2 1355.2 1774.7 1355.5 1775.2 1355.8 1775.7 1356.1 1776.2 1356.3 1776.7 1356.5 1777.2 1356.7 1777.7 1356.8 1778.2 1357.0 1778.7 1357.1 1779.2 1357.1 1779.7 1357.2 1780.2 1357.3 1780.7 1357.3 1781.2 1357.4 1781.7 1357.4 1782.2 1357.4 1782.7 1357.4 1783.2 1357.5 1783.7 1357.5 1784.2 1357.5 1784.7 1357.5 1785.2 1357.5 1785.7 1357.4 1786.2 1357.4 1786.7 1357.4 1787.2 1357.3 1787.7 1357.3 1788.2 1357.2 1788.7 1357.1 1789.2 1357.0 1789.7 1356.9 1790.2 1356.7 1790.7 1356.5 1791.2 1356.3 1791.7 1356.0 1792.2 1355.6 1792.7 1355.2 1793.2 1354.7 1793.7 1354.0 1794.2 1353.2 1794.7 1352.3 1795.2 1351.4 1795.7 1350.6 1796.2 1350.3 1796.3 1350.2 1796.7 1350.4 1797.2 1350.9 1797.7 1351.7 1798.2 1352.6 1798.7 1353.4 1799.2 1354.0 1799.7 1354.5 1800.2 1354.9 1800.7 1355.2 1801.2 1355.5 1801.7 1355.6 1802.2 1355.7 1802.7 1355.8 1803.2 1355.9 1803.7 1355.9 1804.2 1355.9 1804.7 1355.8 1805.2 1355.7 1805.7 1355.7 1806.2 1355.5 1806.7 1355.4 1807.2 1355.2 1807.7 1355.0 1808.2 1354.7 1808.7 1354.4 1809.2 1354.0 1809.7 1353.5 1810.2 1353.0 1810.7 1352.4 1811.2 1351.7 1811.7 1351.0 1812.2 1350.5 1812.7 1350.2 1813.2 1350.1 1813.7 1350.1 1814.2 1350.3 1814.7 1350.4 1815.2 1350.5 1815.7 1350.4 1816.2 1350.2 1816.7 1349.7 1817.2 1349.1 1817.7 1348.3 1818.2 1347.2 1818.7 1345.9 1819.2 1344.4 1819.7 1342.7 1820.2 1341.0 1820.7 1339.7 1821.2 1339.0 1821.7 1339.0 1822.2 1339.6 1822.7 1340.5 1823.2 1341.4 1823.7 1342.1 1824.2 1342.4 1824.7 1342.4 1825.2 1342.0 1825.7 1341.2 1826.2 1339.9 1826.7 1338.1 1827.2 1335.9 1827.7 1333.1 1828.2 1330.0 1828.7 1326.9 1829.2 1324.4 1829.7 1323.0 1830.2 1323.0 1830.7 1324.1 1831.2 1325.7 1831.7 1327.2 1832.2 1328.3 1832.7 1328.9 1833.2 1328.9 1833.7 1328.4 1834.2 1327.4 1834.7 1326.2 1835.2 1324.8 1835.7 1323.4 1836.2 1322.4 1836.7 1321.8 1837.2 1321.8 1837.7 1322.5 1838.2 1323.8 1838.7 1325.7 1839.2 1327.9 1839.7 1330.3 1840.2 1332.7 1840.7 1335.1 1841.2 1337.2 1841.7 1339.2 1842.2 1341.0 1842.7 1342.6 1843.2 1344.0 1843.7 1345.2 1844.2 1346.3 1844.7 1347.2 1845.2 1348.0 1845.7 1348.8 1846.2 1349.4 1846.7 1350.0 1847.2 1350.4 1847.7 1350.9 1848.2 1351.2 1848.7 1351.6 1849.2 1351.8 1849.7 1352.1 1850.2 1352.3 1850.7 1352.5 1851.2 1352.6 1851.7 1352.7 1852.2 1352.8 1852.7 1352.8 1853.2 1352.8 1853.7 1352.7 1854.2 1352.7 1854.7 1352.5 1855.2 1352.3 1855.7 1351.9 1856.2 1351.5 1856.7 1350.8 1857.2 1350.0 1857.7 1348.7 1858.2 1346.9 1858.7 1344.4 1859.2 1340.8 1859.7 1336.2 1860.2 1331.6 1860.7 1329.5 1861.2 1331.6 1861.7 1336.1 1862.2 1340.7 1862.7 1344.2 1863.2 1346.7 1863.7 1348.5 1864.2 1349.7 1864.7 1350.5 1865.2 1351.1 1865.7 1351.4 1866.2 1351.7 1866.7 1351.8 1867.2 1351.9 1867.7 1351.8 1868.2 1351.7 1868.7 1351.6 1869.2 1351.3 1869.7 1351.0 1870.2 1350.5 1870.7 1350.0 1871.2 1349.3 1871.7 1348.5 1872.2 1347.5 1872.7 1346.2 1873.2 1344.8 1873.7 1343.1 1874.2 1341.2 1874.7 1339.4 1875.2 1337.9 1875.7 1337.1 1875.8 1337.0 1876.2 1337.0 1876.7 1337.7 1877.2 1338.8 1877.7 1340.0 1878.2 1341.1 1878.7 1342.0 1879.2 1342.6 1879.7 1343.0 1880.2 1343.1 1880.7 1343.0 1881.2 1342.8 1881.7 1342.5 1882.2 1342.2 1882.7 1342.0 1883.2 1341.8 1883.7 1341.7 1884.2 1341.8 1884.7 1342.0 1885.2 1342.5 1885.7 1343.1 1886.2 1343.8 1886.7 1344.5 1887.2 1345.4 1887.7 1346.2 1888.2 1347.0 1888.7 1347.7 1889.2 1348.4 1889.7 1349.1 1890.2 1349.7 1890.7 1350.2 1891.2 1350.7 1891.7 1351.1 1892.2 1351.5 1892.7 1351.8 1893.2 1352.1 1893.7 1352.4 1894.2 1352.7 1894.7 1352.9 1895.2 1353.1 1895.7 1353.3 1896.2 1353.4 1896.7 1353.5 1897.2 1353.7 1897.7 1353.8 1898.2 1353.9 1898.7 1353.9 1899.2 1354.0 1899.7 1354.1 1900.2 1354.1 1900.7 1354.2 1901.2 1354.2 1901.7 1354.2 1902.2 1354.2 1902.7 1354.1 1903.2 1354.0 1903.7 1353.9 1904.2 1353.8 1904.7 1353.7 1905.2 1353.5 1905.7 1353.3 1906.2 1353.0 1906.7 1352.7 1907.2 1352.2 1907.7 1351.6 1908.2 1350.7 1908.7 1349.4 1909.2 1347.6 1909.7 1345.1 1910.2 1342.7 1910.6 1341.9 1910.7 1341.9 1911.2 1343.3 1911.7 1345.6 1912.2 1347.6 1912.7 1349.0 1913.2 1349.8 1913.7 1350.3 1914.2 1350.6 1914.7 1350.8 1915.2 1350.8 1915.7 1350.7 1916.2 1350.6 1916.7 1350.4 1917.2 1350.1 1917.7 1349.8 1918.2 1349.5 1918.7 1349.0 1919.2 1348.6 1919.7 1348.0 1920.2 1347.3 1920.7 1346.6 1921.2 1345.8 1921.7 1344.8 1922.2 1343.7 1922.7 1342.5 1923.2 1341.2 1923.7 1339.8 1924.2 1338.4 1924.7 1337.0 1925.2 1335.8 1925.7 1334.8 1926.2 1334.2 1926.6 1334.0 1926.7 1334.0 1927.2 1334.2 1927.7 1334.9 1928.2 1336.0 1928.7 1337.2 1929.2 1338.5 1929.7 1339.9 1930.2 1341.1 1930.7 1342.3 1931.2 1343.4 1931.4 1343.7" fill="none" stroke="#f00" stroke-width="6.6" stroke-linejoin="round"/>
<rect x="160.8" y="11.2" width="1770.8" height="1415.7" fill="none" stroke="#000" stroke-width="7.2"/>
<path d="M200.5 1426.9V1398 M239.9 1426.9V1398 M279.2 1426.9V1398 M318.5 1426.9V1398 M357.9 1426.9V1376 M397.2 1426.9V1398 M436.6 1426.9V1398 M475.9 1426.9V1398 M515.2 1426.9V1398 M554.6 1426.9V1376 M593.9 1426.9V1398 M633.2 1426.9V1398 M672.6 1426.9V1398 M711.9 1426.9V1398 M751.3 1426.9V1376 M790.6 1426.9V1398 M829.9 1426.9V1398 M869.3 1426.9V1398 M908.6 1426.9V1398 M947.9 1426.9V1376 M987.3 1426.9V1398 M1026.6 1426.9V1398 M1066.0 1426.9V1398 M1105.3 1426.9V1398 M1144.6 1426.9V1376 M1184.0 1426.9V1398 M1223.3 1426.9V1398 M1262.6 1426.9V1398 M1302.0 1426.9V1398 M1341.3 1426.9V1376 M1380.6 1426.9V1398 M1420.0 1426.9V1398 M1459.3 1426.9V1398 M1498.7 1426.9V1398 M1538.0 1426.9V1376 M1577.3 1426.9V1398 M1616.7 1426.9V1398 M1656.0 1426.9V1398 M1695.3 1426.9V1398 M1734.7 1426.9V1376 M1774.0 1426.9V1398 M1813.4 1426.9V1398 M1852.7 1426.9V1398 M1892.0 1426.9V1398" stroke="#000" stroke-width="6.9" fill="none"/>
<g font-family="Liberation Sans, Arial, Helvetica, sans-serif" font-size="89" fill="#000"><text x="161.2" y="1530.3" text-anchor="middle">5</text><text x="357.9" y="1530.3" text-anchor="middle">10</text><text x="554.6" y="1530.3" text-anchor="middle">15</text><text x="751.3" y="1530.3" text-anchor="middle">20</text><text x="947.9" y="1530.3" text-anchor="middle">25</text><text x="1144.6" y="1530.3" text-anchor="middle">30</text><text x="1341.3" y="1530.3" text-anchor="middle">35</text><text x="1538.0" y="1530.3" text-anchor="middle">40</text><text x="1734.7" y="1530.3" text-anchor="middle">45</text><text x="1931.4" y="1530.3" text-anchor="middle">50</text></g>
<g font-family="Liberation Sans, Arial, Helvetica, sans-serif" font-size="100" fill="#000"><text x="842" y="1659.5">2</text><text x="1003" y="1659.5">/</text><text x="1057.6" y="1659.5" letter-spacing="2">deg</text></g>
<text transform="translate(895.4 1660.3) scale(1.07 1)" font-family="Noto Serif CJK SC, Liberation Serif, serif" font-style="italic" font-size="90">θ</text>
<text transform="translate(94 1032.3) rotate(-90)" font-family="Liberation Sans, Arial, Helvetica, sans-serif" font-size="100.8">Intensity / a.u.</text>
<path d="M1211 166.6H1377" stroke="#000" stroke-width="6.5"/>
<path d="M1211 310.5H1377" stroke="#f00" stroke-width="6.6"/>
<g font-family="Liberation Sans, Arial, Helvetica, sans-serif" font-size="75.5" fill="#000"><text x="1423.2" y="193.4">Experimental</text><text x="1424.2" y="337">Simulated</text></g>
</svg></div>
</body></html>
